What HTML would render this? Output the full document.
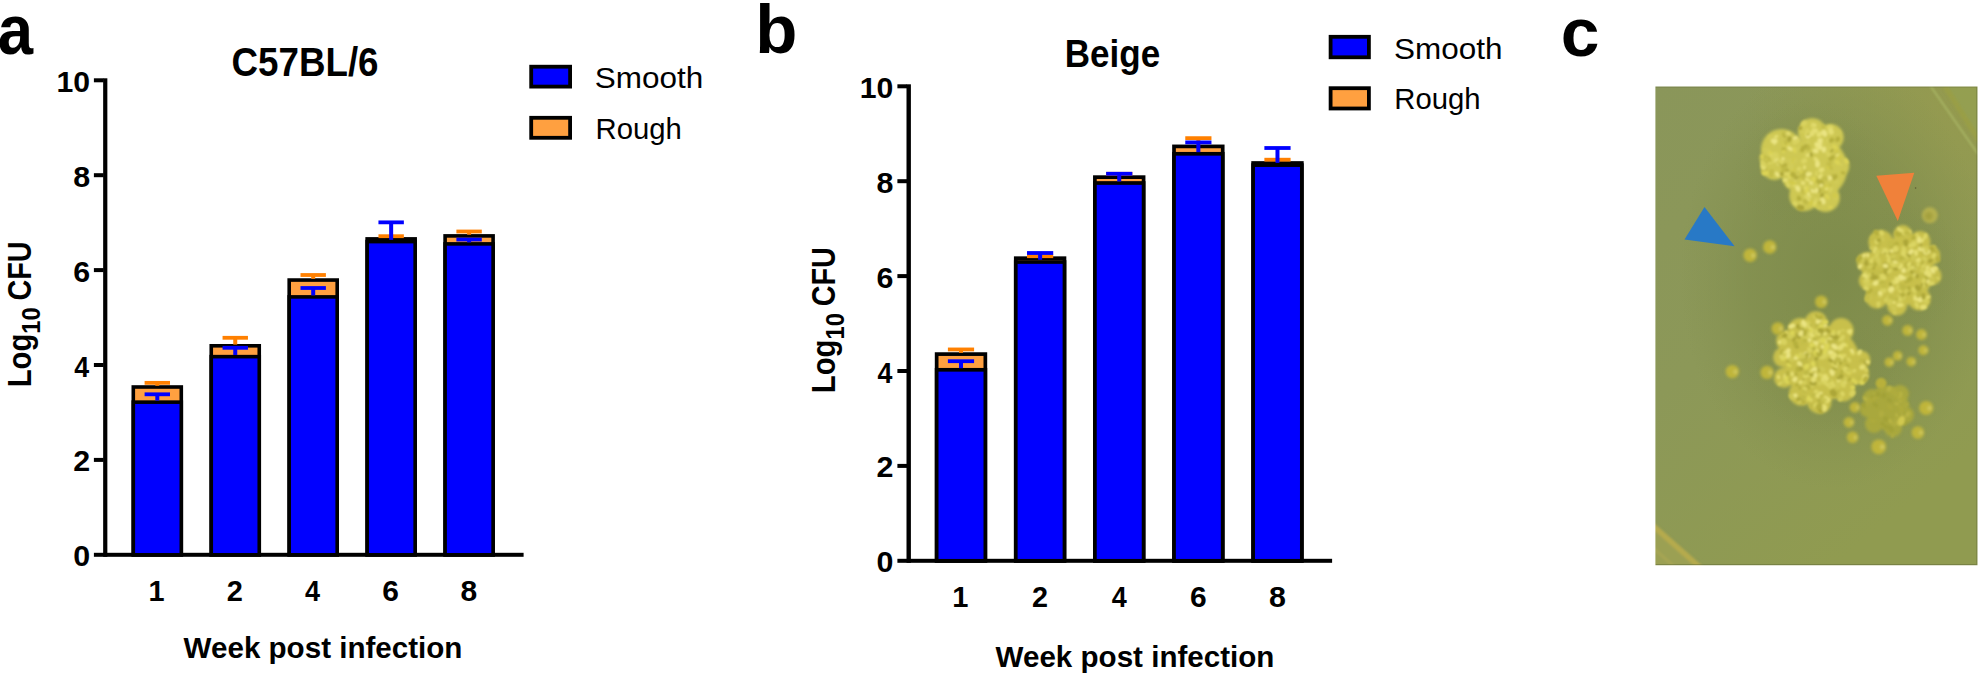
<!DOCTYPE html>
<html><head><meta charset="utf-8"><title>Figure</title>
<style>html,body{margin:0;padding:0;background:#fff;}svg{display:block}</style></head>
<body>
<svg width="1982" height="674" viewBox="0 0 1982 674">
<rect width="1982" height="674" fill="#fff"/>
<rect x="103.15" y="78.30" width="4.2" height="478.50" fill="#000"/>
<rect x="93.90" y="552.80" width="429.70" height="4" fill="#000"/>
<rect x="93.90" y="78.30" width="9.75" height="4" fill="#000"/>
<rect x="93.90" y="173.20" width="9.75" height="4" fill="#000"/>
<rect x="93.90" y="268.10" width="9.75" height="4" fill="#000"/>
<rect x="93.90" y="363.00" width="9.75" height="4" fill="#000"/>
<rect x="93.90" y="457.90" width="9.75" height="4" fill="#000"/>
<rect x="133.30" y="387.00" width="48.00" height="167.80" fill="#ffa040" stroke="#000" stroke-width="3.6"/>
<rect x="155.30" y="382.85" width="4" height="2.95" fill="#ff8000"/>
<rect x="144.60" y="380.95" width="25.4" height="3.8" fill="#ff8000"/>
<rect x="133.30" y="402.15" width="48.00" height="152.65" fill="#0000ff" stroke="#000" stroke-width="3.6"/>
<rect x="155.30" y="394.30" width="4" height="6.30" fill="#0000ff"/>
<rect x="144.60" y="392.40" width="25.4" height="3.8" fill="#0000ff"/>
<rect x="211.25" y="345.80" width="48.00" height="209.00" fill="#ffa040" stroke="#000" stroke-width="3.6"/>
<rect x="233.25" y="337.80" width="4" height="6.80" fill="#ff8000"/>
<rect x="222.55" y="335.90" width="25.4" height="3.8" fill="#ff8000"/>
<rect x="211.25" y="356.65" width="48.00" height="198.15" fill="#0000ff" stroke="#000" stroke-width="3.6"/>
<rect x="233.25" y="347.80" width="4" height="7.20" fill="#0000ff"/>
<rect x="222.55" y="345.90" width="25.4" height="3.8" fill="#0000ff"/>
<rect x="289.20" y="280.05" width="48.00" height="274.75" fill="#ffa040" stroke="#000" stroke-width="3.6"/>
<rect x="311.20" y="275.00" width="4" height="3.85" fill="#ff8000"/>
<rect x="300.50" y="273.10" width="25.4" height="3.8" fill="#ff8000"/>
<rect x="289.20" y="296.90" width="48.00" height="257.90" fill="#0000ff" stroke="#000" stroke-width="3.6"/>
<rect x="311.20" y="288.00" width="4" height="7.40" fill="#0000ff"/>
<rect x="300.50" y="286.10" width="25.4" height="3.8" fill="#0000ff"/>
<rect x="367.15" y="238.90" width="48.00" height="315.90" fill="#ffa040" stroke="#000" stroke-width="3.6"/>
<rect x="389.15" y="236.20" width="4" height="1.50" fill="#ff8000"/>
<rect x="378.45" y="234.30" width="25.4" height="3.8" fill="#ff8000"/>
<rect x="367.15" y="241.60" width="48.00" height="313.20" fill="#0000ff" stroke="#000" stroke-width="3.6"/>
<rect x="389.15" y="222.35" width="4" height="17.55" fill="#0000ff"/>
<rect x="378.45" y="220.45" width="25.4" height="3.8" fill="#0000ff"/>
<rect x="445.10" y="235.90" width="48.00" height="318.90" fill="#ffa040" stroke="#000" stroke-width="3.6"/>
<rect x="467.10" y="231.50" width="4" height="3.20" fill="#ff8000"/>
<rect x="456.40" y="229.60" width="25.4" height="3.8" fill="#ff8000"/>
<rect x="445.10" y="243.90" width="48.00" height="310.90" fill="#0000ff" stroke="#000" stroke-width="3.6"/>
<rect x="467.10" y="239.55" width="4" height="2.85" fill="#0000ff"/>
<rect x="456.40" y="237.65" width="25.4" height="3.8" fill="#0000ff"/>
<rect x="906.50" y="84.30" width="4.4" height="478.50" fill="#000"/>
<rect x="897.40" y="558.80" width="434.70" height="4" fill="#000"/>
<rect x="897.40" y="84.30" width="9.60" height="4" fill="#000"/>
<rect x="897.40" y="179.20" width="9.60" height="4" fill="#000"/>
<rect x="897.40" y="274.10" width="9.60" height="4" fill="#000"/>
<rect x="897.40" y="369.00" width="9.60" height="4" fill="#000"/>
<rect x="897.40" y="463.90" width="9.60" height="4" fill="#000"/>
<rect x="936.65" y="354.10" width="48.70" height="206.70" fill="#ffa040" stroke="#000" stroke-width="3.7"/>
<rect x="959.00" y="349.45" width="4" height="3.40" fill="#ff8000"/>
<rect x="947.90" y="347.55" width="26.2" height="3.8" fill="#ff8000"/>
<rect x="936.65" y="369.80" width="48.70" height="191.00" fill="#0000ff" stroke="#000" stroke-width="3.7"/>
<rect x="959.00" y="361.20" width="4" height="7.00" fill="#0000ff"/>
<rect x="947.90" y="359.30" width="26.2" height="3.8" fill="#0000ff"/>
<rect x="1015.77" y="258.20" width="48.70" height="302.60" fill="#ffa040" stroke="#000" stroke-width="3.7"/>
<rect x="1038.12" y="256.20" width="4" height="0.75" fill="#ff8000"/>
<rect x="1027.02" y="254.30" width="26.2" height="3.8" fill="#ff8000"/>
<rect x="1015.77" y="262.00" width="48.70" height="298.80" fill="#0000ff" stroke="#000" stroke-width="3.7"/>
<rect x="1038.12" y="253.00" width="4" height="6.80" fill="#0000ff"/>
<rect x="1027.02" y="251.10" width="26.2" height="3.8" fill="#0000ff"/>
<rect x="1094.89" y="177.15" width="48.70" height="383.65" fill="#ffa040" stroke="#000" stroke-width="3.7"/>
<rect x="1117.24" y="173.80" width="4" height="2.10" fill="#ff8000"/>
<rect x="1106.14" y="171.90" width="26.2" height="3.8" fill="#ff8000"/>
<rect x="1094.89" y="183.00" width="48.70" height="377.80" fill="#0000ff" stroke="#000" stroke-width="3.7"/>
<rect x="1117.24" y="173.75" width="4" height="7.75" fill="#0000ff"/>
<rect x="1106.14" y="171.85" width="26.2" height="3.8" fill="#0000ff"/>
<rect x="1174.01" y="146.40" width="48.70" height="414.40" fill="#ffa040" stroke="#000" stroke-width="3.7"/>
<rect x="1196.36" y="138.15" width="4" height="7.00" fill="#ff8000"/>
<rect x="1185.26" y="136.25" width="26.2" height="3.8" fill="#ff8000"/>
<rect x="1174.01" y="153.80" width="48.70" height="407.00" fill="#0000ff" stroke="#000" stroke-width="3.7"/>
<rect x="1196.36" y="142.40" width="4" height="9.80" fill="#0000ff"/>
<rect x="1185.26" y="140.50" width="26.2" height="3.8" fill="#0000ff"/>
<rect x="1253.13" y="163.00" width="48.70" height="397.80" fill="#ffa040" stroke="#000" stroke-width="3.7"/>
<rect x="1275.48" y="159.70" width="4" height="2.05" fill="#ff8000"/>
<rect x="1264.38" y="157.80" width="26.2" height="3.8" fill="#ff8000"/>
<rect x="1253.13" y="165.10" width="48.70" height="395.70" fill="#0000ff" stroke="#000" stroke-width="3.7"/>
<rect x="1275.48" y="148.00" width="4" height="14.90" fill="#0000ff"/>
<rect x="1264.38" y="146.10" width="26.2" height="3.8" fill="#0000ff"/>
<rect x="531.20" y="66.70" width="38.90" height="19.90" fill="#0000ff" stroke="#000" stroke-width="3.8"/>
<rect x="531.20" y="117.80" width="38.90" height="20.00" fill="#ffa040" stroke="#000" stroke-width="3.8"/>
<rect x="1330.60" y="36.80" width="38.30" height="20.50" fill="#0000ff" stroke="#000" stroke-width="3.8"/>
<rect x="1330.60" y="88.20" width="38.30" height="20.30" fill="#ffa040" stroke="#000" stroke-width="3.8"/>
<g font-family='"Liberation Sans", sans-serif'>
<text transform="translate(-2.22,53.50) scale(0.9079,1)" font-weight="bold" font-size="70" fill="#000">a</text>
<text transform="translate(755.19,52.80) scale(1.0028,1)" font-weight="bold" font-size="68.8" fill="#000">b</text>
<text transform="translate(1560.68,55.50) scale(1.0088,1)" font-weight="bold" font-size="69" fill="#000">c</text>
<text transform="translate(231.58,76.20) scale(0.9184,1)" font-weight="bold" font-size="40" fill="#000">C57BL/6</text>
<text transform="translate(1064.82,67.40) scale(0.8894,1)" font-weight="bold" font-size="39.4" fill="#000">Beige</text>
<text transform="translate(56.41,91.80) scale(0.9935,1)" font-weight="bold" font-size="30.4" fill="#000">10</text>
<text transform="translate(73.20,186.70) scale(1.0000,1)" font-weight="bold" font-size="30.4" fill="#000">8</text>
<text transform="translate(73.20,281.60) scale(1.0000,1)" font-weight="bold" font-size="30.4" fill="#000">6</text>
<text transform="translate(74.20,376.50) scale(0.8824,1)" font-weight="bold" font-size="30.4" fill="#000">4</text>
<text transform="translate(73.20,471.40) scale(1.0000,1)" font-weight="bold" font-size="30.4" fill="#000">2</text>
<text transform="translate(73.20,566.30) scale(1.0000,1)" font-weight="bold" font-size="30.4" fill="#000">0</text>
<text transform="translate(859.71,97.80) scale(0.9935,1)" font-weight="bold" font-size="30.4" fill="#000">10</text>
<text transform="translate(876.50,192.70) scale(1.0000,1)" font-weight="bold" font-size="30.4" fill="#000">8</text>
<text transform="translate(876.50,287.60) scale(1.0000,1)" font-weight="bold" font-size="30.4" fill="#000">6</text>
<text transform="translate(877.50,382.50) scale(0.8824,1)" font-weight="bold" font-size="30.4" fill="#000">4</text>
<text transform="translate(876.50,477.40) scale(1.0000,1)" font-weight="bold" font-size="30.4" fill="#000">2</text>
<text transform="translate(876.50,572.30) scale(1.0000,1)" font-weight="bold" font-size="30.4" fill="#000">0</text>
<text transform="translate(148.60,600.90) scale(0.9500,1)" font-weight="bold" font-size="30.4" fill="#000">1</text>
<text transform="translate(226.75,600.90) scale(0.9533,1)" font-weight="bold" font-size="30.4" fill="#000">2</text>
<text transform="translate(305.10,600.90) scale(0.8882,1)" font-weight="bold" font-size="30.4" fill="#000">4</text>
<text transform="translate(382.31,600.90) scale(0.9867,1)" font-weight="bold" font-size="30.4" fill="#000">6</text>
<text transform="translate(460.51,600.90) scale(0.9867,1)" font-weight="bold" font-size="30.4" fill="#000">8</text>
<text transform="translate(952.29,607.30) scale(0.9571,1)" font-weight="bold" font-size="30.4" fill="#000">1</text>
<text transform="translate(1031.95,607.30) scale(0.9467,1)" font-weight="bold" font-size="30.4" fill="#000">2</text>
<text transform="translate(1111.75,607.30) scale(0.8882,1)" font-weight="bold" font-size="30.4" fill="#000">4</text>
<text transform="translate(1189.91,607.30) scale(0.9867,1)" font-weight="bold" font-size="30.4" fill="#000">6</text>
<text transform="translate(1268.90,607.30) scale(1.0000,1)" font-weight="bold" font-size="30.4" fill="#000">8</text>
<text transform="translate(183.60,658.30) scale(1.0032,1)" font-weight="bold" font-size="29.5" fill="#000">Week post infection</text>
<text transform="translate(995.60,666.50) scale(1.0029,1)" font-weight="bold" font-size="29.5" fill="#000">Week post infection</text>
<g transform="translate(31.30,385.60) rotate(-90)"><text transform="translate(-1.75,0.00) scale(0.8741,1)" font-weight="bold" font-size="33.5" fill="#000">Log</text><text transform="translate(51.95,9.10) scale(0.9500,1)" font-weight="bold" font-size="25" fill="#000">10</text><text transform="translate(85.04,0.00) scale(0.8591,1)" font-weight="bold" font-size="33.5" fill="#000">CFU</text></g>
<g transform="translate(834.80,391.40) rotate(-90)"><text transform="translate(-1.75,0.00) scale(0.8741,1)" font-weight="bold" font-size="33.5" fill="#000">Log</text><text transform="translate(51.95,9.10) scale(0.9500,1)" font-weight="bold" font-size="25" fill="#000">10</text><text transform="translate(85.04,0.00) scale(0.8591,1)" font-weight="bold" font-size="33.5" fill="#000">CFU</text></g>
<text transform="translate(594.83,88.10) scale(1.0677,1)" font-weight="normal" font-size="29.5" fill="#000">Smooth</text>
<text transform="translate(595.51,138.90) scale(0.9928,1)" font-weight="normal" font-size="29.5" fill="#000">Rough</text>
<text transform="translate(1393.93,58.50) scale(1.0677,1)" font-weight="normal" font-size="29.5" fill="#000">Smooth</text>
<text transform="translate(1394.31,109.40) scale(0.9928,1)" font-weight="normal" font-size="29.5" fill="#000">Rough</text>
</g>
<defs>
<clipPath id="pc"><rect x="1655" y="86" width="323" height="480"/></clipPath>
<linearGradient id="bg" x1="0" y1="0" x2="0.55" y2="1">
<stop offset="0" stop-color="#8a965a"/><stop offset="0.5" stop-color="#8c9858"/><stop offset="1" stop-color="#909b50"/></linearGradient>
<radialGradient id="sh"><stop offset="0" stop-color="#7c8a49" stop-opacity="0.9"/><stop offset="0.55" stop-color="#7f8c4b" stop-opacity="0.62"/><stop offset="1" stop-color="#828e4c" stop-opacity="0"/></radialGradient>
<filter id="b1" x="-20%" y="-20%" width="140%" height="140%"><feGaussianBlur stdDeviation="1.0"/></filter>
<filter id="b15" x="-20%" y="-20%" width="140%" height="140%"><feGaussianBlur stdDeviation="1.6"/></filter>
<filter id="b2" x="-30%" y="-30%" width="160%" height="160%"><feGaussianBlur stdDeviation="1.8"/></filter>
</defs>
<g clip-path="url(#pc)">
<rect x="1654" y="85" width="325" height="482" fill="url(#bg)"/>
<radialGradient id="tr" cx="1977" cy="86" r="230" gradientUnits="userSpaceOnUse"><stop offset="0" stop-color="#979b4c" stop-opacity="0.85"/><stop offset="1" stop-color="#979b4c" stop-opacity="0"/></radialGradient>
<rect x="1654" y="85" width="325" height="482" fill="url(#tr)"/>
<ellipse cx="1835" cy="275" rx="155" ry="215" fill="url(#sh)"/>
<ellipse cx="1810" cy="170" rx="75" ry="70" fill="url(#sh)" opacity="0.35"/>
<ellipse cx="1895" cy="270" rx="70" ry="70" fill="url(#sh)" opacity="0.35"/>
<ellipse cx="1825" cy="365" rx="80" ry="72" fill="url(#sh)" opacity="0.35"/>
<g filter="url(#b1)">
<path d="M1653 528 L1698 568 L1653 568Z" fill="#9ba052"/>
<path d="M1651 524 L1703 570" stroke="#b5aa4e" stroke-width="5.5" fill="none"/>
<path d="M1651 546 L1678 570" stroke="#a8a652" stroke-width="2.5" fill="none"/>
<path d="M1944 84 L1982 142 L1982 84Z" fill="#93a052" opacity="0.8"/>
<path d="M1930.5 86 L1978 154" stroke="#a7b363" stroke-width="2" fill="none"/>
<path d="M1945 86 L1980 142" stroke="#9a9f45" stroke-width="5.5" fill="none" opacity="0.85"/>
</g>
<g filter="url(#b15)">
<circle cx="1816.0" cy="168.0" r="31.3" fill="#cec852"/>
<circle cx="1781.5" cy="149.5" r="20.5" fill="#cec852"/>
<circle cx="1774.5" cy="166.1" r="13.8" fill="#cec852"/>
<circle cx="1766.5" cy="158" r="7" fill="#cec852"/>
<circle cx="1812.2" cy="132.5" r="14.2" fill="#cec852"/>
<circle cx="1830.4" cy="137.3" r="13.3" fill="#cec852"/>
<circle cx="1804.5" cy="195.8" r="15.2" fill="#cec852"/>
<circle cx="1825.6" cy="197.8" r="14.2" fill="#cec852"/>
<circle cx="1837.1" cy="166.1" r="12.3" fill="#cec852"/>
<circle cx="1795.8" cy="177.6" r="13.3" fill="#cec852"/>
</g>
<g filter="url(#b1)">
<ellipse cx="1829.8" cy="148.3" rx="2.5" ry="1.7" fill="#dcd456" transform="rotate(81 1829.8 148.3)"/>
<ellipse cx="1784.6" cy="161.7" rx="3.6" ry="2.4" fill="#d2cc58" transform="rotate(109 1784.6 161.7)"/>
<ellipse cx="1829.3" cy="147.7" rx="3.1" ry="1.8" fill="#d2cc58" transform="rotate(57 1829.3 147.7)"/>
<ellipse cx="1790.2" cy="161.1" rx="2.7" ry="1.7" fill="#d2cc58" transform="rotate(76 1790.2 161.1)"/>
<ellipse cx="1775.5" cy="154.4" rx="3.0" ry="2.0" fill="#c0ba46" transform="rotate(122 1775.5 154.4)"/>
<ellipse cx="1802.6" cy="174.2" rx="3.6" ry="3.0" fill="#dcd456" transform="rotate(18 1802.6 174.2)"/>
<ellipse cx="1798.4" cy="174.5" rx="2.6" ry="2.0" fill="#cec854" transform="rotate(128 1798.4 174.5)"/>
<ellipse cx="1779.0" cy="163.3" rx="2.5" ry="2.1" fill="#eae482" transform="rotate(90 1779.0 163.3)"/>
<ellipse cx="1789.1" cy="139.5" rx="3.3" ry="2.2" fill="#aca638" transform="rotate(120 1789.1 139.5)"/>
<ellipse cx="1771.6" cy="156.6" rx="2.7" ry="1.8" fill="#dcd664" transform="rotate(92 1771.6 156.6)"/>
<ellipse cx="1767.8" cy="171.4" rx="2.1" ry="1.2" fill="#d8d25e" transform="rotate(127 1767.8 171.4)"/>
<ellipse cx="1808.2" cy="135.7" rx="2.9" ry="2.5" fill="#eae482" transform="rotate(139 1808.2 135.7)"/>
<ellipse cx="1830.5" cy="164.0" rx="2.6" ry="2.1" fill="#e4de72" transform="rotate(64 1830.5 164.0)"/>
<ellipse cx="1803.9" cy="125.8" rx="2.7" ry="2.2" fill="#d2ca4c" transform="rotate(172 1803.9 125.8)"/>
<ellipse cx="1781.9" cy="173.9" rx="2.4" ry="2.0" fill="#aca638" transform="rotate(87 1781.9 173.9)"/>
<ellipse cx="1777.2" cy="174.3" rx="2.9" ry="1.9" fill="#eae482" transform="rotate(62 1777.2 174.3)"/>
<ellipse cx="1776.1" cy="159.3" rx="3.1" ry="2.4" fill="#eae482" transform="rotate(114 1776.1 159.3)"/>
<ellipse cx="1770.0" cy="153.8" rx="3.4" ry="2.7" fill="#dcd456" transform="rotate(46 1770.0 153.8)"/>
<ellipse cx="1828.5" cy="154.3" rx="3.4" ry="2.1" fill="#d8d25e" transform="rotate(48 1828.5 154.3)"/>
<ellipse cx="1813.2" cy="178.9" rx="2.5" ry="2.1" fill="#dcd456" transform="rotate(118 1813.2 178.9)"/>
<ellipse cx="1824.0" cy="139.2" rx="2.9" ry="1.6" fill="#cec854" transform="rotate(70 1824.0 139.2)"/>
<ellipse cx="1804.1" cy="202.5" rx="3.3" ry="2.8" fill="#cec854" transform="rotate(174 1804.1 202.5)"/>
<ellipse cx="1827.3" cy="198.0" rx="2.3" ry="1.7" fill="#d2ca4c" transform="rotate(29 1827.3 198.0)"/>
<ellipse cx="1764.6" cy="171.0" rx="3.8" ry="2.8" fill="#c0ba46" transform="rotate(125 1764.6 171.0)"/>
<ellipse cx="1805.7" cy="154.1" rx="3.0" ry="2.0" fill="#d2cc58" transform="rotate(114 1805.7 154.1)"/>
<ellipse cx="1808.8" cy="200.2" rx="2.1" ry="1.2" fill="#e4de72" transform="rotate(14 1808.8 200.2)"/>
<ellipse cx="1798.7" cy="199.2" rx="2.0" ry="1.6" fill="#b6b03e" transform="rotate(7 1798.7 199.2)"/>
<ellipse cx="1791.4" cy="175.5" rx="3.6" ry="3.0" fill="#eae482" transform="rotate(127 1791.4 175.5)"/>
<ellipse cx="1818.7" cy="176.3" rx="3.0" ry="2.5" fill="#c0ba46" transform="rotate(106 1818.7 176.3)"/>
<ellipse cx="1808.4" cy="155.1" rx="2.9" ry="1.9" fill="#e4de72" transform="rotate(157 1808.4 155.1)"/>
<ellipse cx="1820.8" cy="183.0" rx="3.8" ry="3.0" fill="#b6b03e" transform="rotate(61 1820.8 183.0)"/>
<ellipse cx="1829.9" cy="177.7" rx="3.0" ry="2.5" fill="#eae482" transform="rotate(151 1829.9 177.7)"/>
<ellipse cx="1790.2" cy="148.7" rx="3.3" ry="1.9" fill="#eae482" transform="rotate(31 1790.2 148.7)"/>
<ellipse cx="1817.2" cy="146.7" rx="3.5" ry="2.3" fill="#e4de72" transform="rotate(61 1817.2 146.7)"/>
<ellipse cx="1838.8" cy="159.6" rx="3.3" ry="2.3" fill="#c4be4a" transform="rotate(104 1838.8 159.6)"/>
<ellipse cx="1801.9" cy="177.4" rx="3.8" ry="2.2" fill="#c4be4a" transform="rotate(23 1801.9 177.4)"/>
<ellipse cx="1813.7" cy="125.0" rx="3.0" ry="1.9" fill="#e4de72" transform="rotate(15 1813.7 125.0)"/>
<ellipse cx="1777.8" cy="162.1" rx="2.2" ry="1.8" fill="#d2cc58" transform="rotate(19 1777.8 162.1)"/>
<ellipse cx="1835.8" cy="198.6" rx="2.2" ry="1.3" fill="#d2cc58" transform="rotate(159 1835.8 198.6)"/>
<ellipse cx="1820.7" cy="147.4" rx="2.3" ry="1.6" fill="#dcd664" transform="rotate(123 1820.7 147.4)"/>
<ellipse cx="1814.7" cy="203.5" rx="2.7" ry="2.3" fill="#e4de72" transform="rotate(164 1814.7 203.5)"/>
<ellipse cx="1772.9" cy="159.5" rx="2.4" ry="1.5" fill="#e4de72" transform="rotate(5 1772.9 159.5)"/>
<ellipse cx="1800.9" cy="203.4" rx="2.7" ry="1.5" fill="#d8d25e" transform="rotate(57 1800.9 203.4)"/>
<ellipse cx="1800.0" cy="181.1" rx="3.1" ry="2.6" fill="#d2ca4c" transform="rotate(98 1800.0 181.1)"/>
<ellipse cx="1776.7" cy="155.6" rx="2.4" ry="1.4" fill="#e4de72" transform="rotate(65 1776.7 155.6)"/>
<ellipse cx="1816.2" cy="159.7" rx="3.0" ry="2.0" fill="#e4de72" transform="rotate(41 1816.2 159.7)"/>
<ellipse cx="1825.5" cy="190.6" rx="3.0" ry="2.5" fill="#c4be4a" transform="rotate(44 1825.5 190.6)"/>
<ellipse cx="1766.3" cy="161.6" rx="2.4" ry="1.4" fill="#c4be4a" transform="rotate(44 1766.3 161.6)"/>
<ellipse cx="1831.8" cy="150.6" rx="2.0" ry="1.1" fill="#aca638" transform="rotate(135 1831.8 150.6)"/>
<ellipse cx="1786.1" cy="144.1" rx="2.9" ry="2.3" fill="#dcd456" transform="rotate(14 1786.1 144.1)"/>
<ellipse cx="1820.5" cy="141.0" rx="3.5" ry="2.2" fill="#eae482" transform="rotate(19 1820.5 141.0)"/>
<ellipse cx="1822.0" cy="195.1" rx="2.4" ry="1.7" fill="#aca638" transform="rotate(130 1822.0 195.1)"/>
<ellipse cx="1818.3" cy="190.6" rx="3.0" ry="2.5" fill="#b6b03e" transform="rotate(178 1818.3 190.6)"/>
<ellipse cx="1806.0" cy="172.5" rx="3.3" ry="2.5" fill="#c4be4a" transform="rotate(45 1806.0 172.5)"/>
<ellipse cx="1823.2" cy="139.8" rx="2.5" ry="1.7" fill="#d2cc58" transform="rotate(97 1823.2 139.8)"/>
<ellipse cx="1776.7" cy="157.3" rx="2.0" ry="1.5" fill="#d8d25e" transform="rotate(75 1776.7 157.3)"/>
<ellipse cx="1808.5" cy="148.4" rx="3.1" ry="1.8" fill="#e4de72" transform="rotate(177 1808.5 148.4)"/>
<ellipse cx="1770.0" cy="157.7" rx="2.4" ry="1.3" fill="#eae482" transform="rotate(95 1770.0 157.7)"/>
<ellipse cx="1846.3" cy="161.1" rx="3.2" ry="1.9" fill="#dcd456" transform="rotate(56 1846.3 161.1)"/>
<ellipse cx="1783.3" cy="160.9" rx="3.0" ry="2.5" fill="#e4de72" transform="rotate(165 1783.3 160.9)"/>
<ellipse cx="1797.9" cy="188.6" rx="3.4" ry="2.5" fill="#eae482" transform="rotate(66 1797.9 188.6)"/>
<ellipse cx="1810.0" cy="190.8" rx="3.2" ry="2.6" fill="#d2ca4c" transform="rotate(67 1810.0 190.8)"/>
<ellipse cx="1827.1" cy="138.0" rx="2.2" ry="1.6" fill="#cec854" transform="rotate(93 1827.1 138.0)"/>
<ellipse cx="1816.0" cy="180.8" rx="3.0" ry="2.4" fill="#dcd456" transform="rotate(9 1816.0 180.8)"/>
<ellipse cx="1774.2" cy="141.0" rx="3.5" ry="2.5" fill="#eae482" transform="rotate(179 1774.2 141.0)"/>
<ellipse cx="1799.1" cy="168.9" rx="2.5" ry="2.0" fill="#dcd664" transform="rotate(173 1799.1 168.9)"/>
<ellipse cx="1787.3" cy="169.9" rx="3.2" ry="1.9" fill="#b6b03e" transform="rotate(153 1787.3 169.9)"/>
<ellipse cx="1788.1" cy="184.7" rx="2.8" ry="1.7" fill="#dcd664" transform="rotate(59 1788.1 184.7)"/>
<ellipse cx="1806.5" cy="132.9" rx="2.8" ry="2.0" fill="#dcd456" transform="rotate(164 1806.5 132.9)"/>
<ellipse cx="1816.3" cy="191.8" rx="2.0" ry="1.2" fill="#d2cc58" transform="rotate(79 1816.3 191.8)"/>
<ellipse cx="1829.4" cy="165.7" rx="2.5" ry="1.5" fill="#b6b03e" transform="rotate(27 1829.4 165.7)"/>
<ellipse cx="1804.2" cy="160.9" rx="3.2" ry="2.5" fill="#dcd664" transform="rotate(146 1804.2 160.9)"/>
<ellipse cx="1763.3" cy="166.7" rx="3.4" ry="2.4" fill="#e4de72" transform="rotate(69 1763.3 166.7)"/>
<ellipse cx="1827.2" cy="196.7" rx="3.0" ry="1.7" fill="#dcd456" transform="rotate(53 1827.2 196.7)"/>
<ellipse cx="1809.4" cy="195.0" rx="2.9" ry="2.1" fill="#eae482" transform="rotate(56 1809.4 195.0)"/>
<ellipse cx="1830.8" cy="130.7" rx="2.2" ry="1.7" fill="#eae482" transform="rotate(63 1830.8 130.7)"/>
<ellipse cx="1784.6" cy="134.9" rx="2.9" ry="2.1" fill="#b6b03e" transform="rotate(68 1784.6 134.9)"/>
<ellipse cx="1784.2" cy="165.8" rx="3.3" ry="2.5" fill="#b6b03e" transform="rotate(131 1784.2 165.8)"/>
<ellipse cx="1785.4" cy="180.2" rx="2.7" ry="2.1" fill="#e4de72" transform="rotate(178 1785.4 180.2)"/>
<ellipse cx="1821.3" cy="140.3" rx="2.4" ry="1.7" fill="#d8d25e" transform="rotate(122 1821.3 140.3)"/>
<ellipse cx="1767.6" cy="158.9" rx="3.1" ry="2.4" fill="#d2ca4c" transform="rotate(162 1767.6 158.9)"/>
<ellipse cx="1829.7" cy="166.9" rx="3.7" ry="2.4" fill="#d2ca4c" transform="rotate(4 1829.7 166.9)"/>
<ellipse cx="1804.1" cy="123.5" rx="3.4" ry="2.7" fill="#d8d25e" transform="rotate(138 1804.1 123.5)"/>
<ellipse cx="1837.0" cy="155.2" rx="2.7" ry="2.1" fill="#c0ba46" transform="rotate(55 1837.0 155.2)"/>
<ellipse cx="1817.1" cy="198.6" rx="2.1" ry="1.5" fill="#cec854" transform="rotate(134 1817.1 198.6)"/>
<ellipse cx="1832.7" cy="175.5" rx="2.3" ry="1.8" fill="#c4be4a" transform="rotate(29 1832.7 175.5)"/>
<ellipse cx="1776.2" cy="136.5" rx="2.4" ry="1.5" fill="#e4de72" transform="rotate(159 1776.2 136.5)"/>
<ellipse cx="1807.8" cy="143.0" rx="3.2" ry="2.2" fill="#d2cc58" transform="rotate(100 1807.8 143.0)"/>
<ellipse cx="1802.7" cy="148.9" rx="3.5" ry="2.2" fill="#b6b03e" transform="rotate(110 1802.7 148.9)"/>
<ellipse cx="1771.4" cy="156.9" rx="2.5" ry="1.8" fill="#e4de72" transform="rotate(129 1771.4 156.9)"/>
<ellipse cx="1792.9" cy="167.2" rx="2.1" ry="1.7" fill="#aca638" transform="rotate(112 1792.9 167.2)"/>
<ellipse cx="1842.0" cy="163.9" rx="2.5" ry="1.4" fill="#d8d25e" transform="rotate(132 1842.0 163.9)"/>
<ellipse cx="1794.7" cy="141.5" rx="3.1" ry="1.9" fill="#dcd664" transform="rotate(95 1794.7 141.5)"/>
<ellipse cx="1811.5" cy="190.3" rx="2.6" ry="1.7" fill="#b6b03e" transform="rotate(21 1811.5 190.3)"/>
<ellipse cx="1829.1" cy="140.9" rx="2.7" ry="1.9" fill="#dcd664" transform="rotate(18 1829.1 140.9)"/>
<ellipse cx="1817.5" cy="164.1" rx="3.4" ry="2.5" fill="#eae482" transform="rotate(89 1817.5 164.1)"/>
<ellipse cx="1835.1" cy="195.6" rx="2.6" ry="2.1" fill="#d2ca4c" transform="rotate(21 1835.1 195.6)"/>
<ellipse cx="1818.3" cy="181.1" rx="2.8" ry="2.2" fill="#b6b03e" transform="rotate(175 1818.3 181.1)"/>
<ellipse cx="1816.3" cy="200.0" rx="2.4" ry="1.8" fill="#d8d25e" transform="rotate(59 1816.3 200.0)"/>
<ellipse cx="1817.7" cy="175.5" rx="2.0" ry="1.1" fill="#cec854" transform="rotate(86 1817.7 175.5)"/>
<ellipse cx="1824.3" cy="203.2" rx="2.3" ry="1.8" fill="#d2cc58" transform="rotate(116 1824.3 203.2)"/>
<ellipse cx="1829.7" cy="185.8" rx="2.1" ry="1.4" fill="#c0ba46" transform="rotate(23 1829.7 185.8)"/>
<ellipse cx="1811.7" cy="133.9" rx="3.0" ry="2.1" fill="#e4de72" transform="rotate(23 1811.7 133.9)"/>
<ellipse cx="1799.2" cy="198.2" rx="2.9" ry="1.7" fill="#b6b03e" transform="rotate(50 1799.2 198.2)"/>
<ellipse cx="1823.2" cy="143.2" rx="3.7" ry="2.8" fill="#d2cc58" transform="rotate(44 1823.2 143.2)"/>
<ellipse cx="1767.1" cy="155.5" rx="2.8" ry="2.1" fill="#d2cc58" transform="rotate(115 1767.1 155.5)"/>
<ellipse cx="1829.5" cy="163.8" rx="3.3" ry="2.3" fill="#c4be4a" transform="rotate(166 1829.5 163.8)"/>
<ellipse cx="1830.0" cy="127.4" rx="3.4" ry="2.1" fill="#dcd664" transform="rotate(176 1830.0 127.4)"/>
<ellipse cx="1821.2" cy="185.3" rx="2.1" ry="1.5" fill="#eae482" transform="rotate(164 1821.2 185.3)"/>
<ellipse cx="1769.2" cy="162.5" rx="2.1" ry="1.5" fill="#dcd664" transform="rotate(80 1769.2 162.5)"/>
<ellipse cx="1838.0" cy="155.9" rx="2.8" ry="2.2" fill="#e4de72" transform="rotate(49 1838.0 155.9)"/>
<ellipse cx="1806.6" cy="197.1" rx="2.7" ry="2.1" fill="#dcd664" transform="rotate(56 1806.6 197.1)"/>
<ellipse cx="1809.1" cy="174.4" rx="3.2" ry="1.9" fill="#eae482" transform="rotate(151 1809.1 174.4)"/>
<ellipse cx="1771.1" cy="172.3" rx="3.4" ry="2.9" fill="#c4be4a" transform="rotate(105 1771.1 172.3)"/>
<ellipse cx="1823.9" cy="149.7" rx="3.0" ry="2.4" fill="#eae482" transform="rotate(105 1823.9 149.7)"/>
<ellipse cx="1783.3" cy="159.4" rx="2.5" ry="1.5" fill="#eae482" transform="rotate(67 1783.3 159.4)"/>
<ellipse cx="1807.7" cy="173.3" rx="2.1" ry="1.4" fill="#eae482" transform="rotate(144 1807.7 173.3)"/>
<ellipse cx="1811.1" cy="183.6" rx="2.6" ry="2.0" fill="#eae482" transform="rotate(90 1811.1 183.6)"/>
<ellipse cx="1806.4" cy="189.4" rx="3.4" ry="2.5" fill="#e4de72" transform="rotate(81 1806.4 189.4)"/>
<ellipse cx="1796.3" cy="140.5" rx="3.7" ry="3.0" fill="#d8d25e" transform="rotate(167 1796.3 140.5)"/>
<ellipse cx="1810.9" cy="203.0" rx="3.0" ry="2.6" fill="#d2ca4c" transform="rotate(141 1810.9 203.0)"/>
<ellipse cx="1763.3" cy="163.2" rx="3.4" ry="2.3" fill="#d8d25e" transform="rotate(55 1763.3 163.2)"/>
<ellipse cx="1791.1" cy="176.6" rx="2.3" ry="1.7" fill="#c4be4a" transform="rotate(101 1791.1 176.6)"/>
<ellipse cx="1796.1" cy="180.5" rx="2.1" ry="1.2" fill="#e4de72" transform="rotate(98 1796.1 180.5)"/>
<ellipse cx="1831.3" cy="140.2" rx="3.0" ry="2.2" fill="#b6b03e" transform="rotate(154 1831.3 140.2)"/>
<ellipse cx="1817.6" cy="142.8" rx="2.0" ry="1.3" fill="#d2ca4c" transform="rotate(153 1817.6 142.8)"/>
<ellipse cx="1805.6" cy="201.7" rx="2.9" ry="2.4" fill="#c0ba46" transform="rotate(42 1805.6 201.7)"/>
<ellipse cx="1819.5" cy="134.2" rx="3.4" ry="2.6" fill="#e4de72" transform="rotate(147 1819.5 134.2)"/>
<ellipse cx="1794.6" cy="150.2" rx="2.7" ry="2.2" fill="#d8d25e" transform="rotate(14 1794.6 150.2)"/>
<ellipse cx="1839.5" cy="158.2" rx="2.1" ry="1.7" fill="#b6b03e" transform="rotate(83 1839.5 158.2)"/>
<ellipse cx="1792.7" cy="168.8" rx="3.0" ry="2.4" fill="#d2ca4c" transform="rotate(92 1792.7 168.8)"/>
<ellipse cx="1819.7" cy="146.2" rx="3.8" ry="2.4" fill="#eae482" transform="rotate(74 1819.7 146.2)"/>
<ellipse cx="1774.6" cy="142.2" rx="2.5" ry="1.8" fill="#eae482" transform="rotate(106 1774.6 142.2)"/>
<ellipse cx="1811.1" cy="194.7" rx="2.0" ry="1.4" fill="#d2cc58" transform="rotate(119 1811.1 194.7)"/>
<ellipse cx="1767.2" cy="159.6" rx="3.6" ry="2.7" fill="#c4be4a" transform="rotate(162 1767.2 159.6)"/>
<ellipse cx="1819.3" cy="203.5" rx="3.4" ry="2.3" fill="#c0ba46" transform="rotate(135 1819.3 203.5)"/>
<ellipse cx="1795.3" cy="203.5" rx="2.9" ry="1.7" fill="#dcd664" transform="rotate(27 1795.3 203.5)"/>
<ellipse cx="1822.6" cy="201.1" rx="3.4" ry="2.9" fill="#eae482" transform="rotate(74 1822.6 201.1)"/>
<ellipse cx="1803.3" cy="174.9" rx="2.6" ry="2.1" fill="#c0ba46" transform="rotate(39 1803.3 174.9)"/>
<ellipse cx="1789.6" cy="182.0" rx="2.1" ry="1.3" fill="#d2ca4c" transform="rotate(27 1789.6 182.0)"/>
<ellipse cx="1815.6" cy="187.1" rx="3.7" ry="2.5" fill="#d2cc58" transform="rotate(130 1815.6 187.1)"/>
<ellipse cx="1795.0" cy="150.2" rx="3.0" ry="2.1" fill="#dcd456" transform="rotate(62 1795.0 150.2)"/>
<ellipse cx="1802.7" cy="182.9" rx="2.8" ry="2.1" fill="#e4de72" transform="rotate(21 1802.7 182.9)"/>
<ellipse cx="1834.9" cy="146.8" rx="3.3" ry="1.8" fill="#dcd456" transform="rotate(39 1834.9 146.8)"/>
<ellipse cx="1798.7" cy="182.4" rx="2.5" ry="1.8" fill="#c4be4a" transform="rotate(163 1798.7 182.4)"/>
<ellipse cx="1807.4" cy="133.1" rx="3.1" ry="2.4" fill="#e4de72" transform="rotate(30 1807.4 133.1)"/>
<ellipse cx="1795.2" cy="137.9" rx="2.5" ry="1.8" fill="#eae482" transform="rotate(161 1795.2 137.9)"/>
<ellipse cx="1839.2" cy="157.8" rx="3.5" ry="2.1" fill="#d2ca4c" transform="rotate(136 1839.2 157.8)"/>
<ellipse cx="1823.2" cy="127.0" rx="2.5" ry="1.8" fill="#c4be4a" transform="rotate(79 1823.2 127.0)"/>
<ellipse cx="1812.4" cy="190.9" rx="2.7" ry="1.6" fill="#eae482" transform="rotate(35 1812.4 190.9)"/>
<ellipse cx="1814.7" cy="130.8" rx="3.5" ry="2.5" fill="#e4de72" transform="rotate(170 1814.7 130.8)"/>
<ellipse cx="1811.2" cy="154.6" rx="2.4" ry="1.6" fill="#aca638" transform="rotate(85 1811.2 154.6)"/>
<ellipse cx="1817.3" cy="144.4" rx="3.0" ry="2.1" fill="#eae482" transform="rotate(27 1817.3 144.4)"/>
<ellipse cx="1807.9" cy="147.4" rx="3.5" ry="2.8" fill="#c0ba46" transform="rotate(57 1807.9 147.4)"/>
<ellipse cx="1794.0" cy="161.0" rx="3.3" ry="2.0" fill="#d2ca4c" transform="rotate(114 1794.0 161.0)"/>
<ellipse cx="1820.4" cy="176.3" rx="3.0" ry="2.1" fill="#e4de72" transform="rotate(119 1820.4 176.3)"/>
<ellipse cx="1784.1" cy="149.6" rx="2.5" ry="1.9" fill="#b6b03e" transform="rotate(15 1784.1 149.6)"/>
<ellipse cx="1798.0" cy="149.9" rx="2.5" ry="1.9" fill="#c4be4a" transform="rotate(68 1798.0 149.9)"/>
<ellipse cx="1824.8" cy="178.6" rx="3.4" ry="2.6" fill="#c4be4a" transform="rotate(7 1824.8 178.6)"/>
<ellipse cx="1831.1" cy="167.9" rx="2.4" ry="1.7" fill="#c4be4a" transform="rotate(65 1831.1 167.9)"/>
<ellipse cx="1794.5" cy="183.7" rx="3.1" ry="2.0" fill="#e4de72" transform="rotate(122 1794.5 183.7)"/>
<ellipse cx="1836.6" cy="150.6" rx="2.2" ry="1.8" fill="#d2ca4c" transform="rotate(142 1836.6 150.6)"/>
<ellipse cx="1816.4" cy="190.6" rx="2.7" ry="2.1" fill="#eae482" transform="rotate(112 1816.4 190.6)"/>
<ellipse cx="1766.3" cy="158.0" rx="2.5" ry="1.6" fill="#dcd664" transform="rotate(54 1766.3 158.0)"/>
<ellipse cx="1804.5" cy="167.4" rx="2.4" ry="1.6" fill="#e4de72" transform="rotate(98 1804.5 167.4)"/>
<ellipse cx="1780.3" cy="164.0" rx="2.2" ry="1.7" fill="#c4be4a" transform="rotate(134 1780.3 164.0)"/>
<ellipse cx="1803.3" cy="130.0" rx="3.5" ry="2.7" fill="#d2cc58" transform="rotate(123 1803.3 130.0)"/>
<ellipse cx="1807.9" cy="134.0" rx="2.1" ry="1.5" fill="#b6b03e" transform="rotate(122 1807.9 134.0)"/>
<ellipse cx="1786.5" cy="134.5" rx="2.7" ry="1.7" fill="#cec854" transform="rotate(28 1786.5 134.5)"/>
<ellipse cx="1815.4" cy="204.7" rx="2.3" ry="1.4" fill="#dcd456" transform="rotate(124 1815.4 204.7)"/>
<ellipse cx="1824.4" cy="133.1" rx="3.7" ry="2.7" fill="#eae482" transform="rotate(68 1824.4 133.1)"/>
<ellipse cx="1797.4" cy="178.8" rx="2.8" ry="2.1" fill="#aca638" transform="rotate(50 1797.4 178.8)"/>
<ellipse cx="1778.2" cy="146.9" rx="2.8" ry="1.6" fill="#d2cc58" transform="rotate(127 1778.2 146.9)"/>
<ellipse cx="1830.3" cy="189.5" rx="3.0" ry="2.3" fill="#d8d25e" transform="rotate(99 1830.3 189.5)"/>
<ellipse cx="1831.6" cy="158.1" rx="3.5" ry="2.2" fill="#b6b03e" transform="rotate(145 1831.6 158.1)"/>
<ellipse cx="1840.6" cy="160.4" rx="2.2" ry="1.2" fill="#cec854" transform="rotate(127 1840.6 160.4)"/>
<ellipse cx="1819.8" cy="206.1" rx="3.8" ry="3.0" fill="#cec854" transform="rotate(10 1819.8 206.1)"/>
<ellipse cx="1771.6" cy="161.6" rx="2.6" ry="2.1" fill="#d8d25e" transform="rotate(43 1771.6 161.6)"/>
<ellipse cx="1783.9" cy="169.5" rx="3.6" ry="2.2" fill="#c0ba46" transform="rotate(116 1783.9 169.5)"/>
<ellipse cx="1837.3" cy="162.3" rx="3.0" ry="2.1" fill="#dcd456" transform="rotate(38 1837.3 162.3)"/>
<ellipse cx="1830.4" cy="207.2" rx="2.2" ry="1.4" fill="#dcd456" transform="rotate(175 1830.4 207.2)"/>
<ellipse cx="1805.5" cy="146.7" rx="2.7" ry="2.0" fill="#b6b03e" transform="rotate(119 1805.5 146.7)"/>
<ellipse cx="1776.5" cy="153.2" rx="2.9" ry="1.8" fill="#d2cc58" transform="rotate(23 1776.5 153.2)"/>
<ellipse cx="1783.8" cy="151.3" rx="2.1" ry="1.3" fill="#dcd456" transform="rotate(138 1783.8 151.3)"/>
<ellipse cx="1788.4" cy="133.6" rx="2.3" ry="1.6" fill="#e4de72" transform="rotate(19 1788.4 133.6)"/>
<ellipse cx="1798.5" cy="181.3" rx="3.3" ry="2.7" fill="#cec854" transform="rotate(97 1798.5 181.3)"/>
<ellipse cx="1790.2" cy="176.0" rx="2.8" ry="1.7" fill="#dcd456" transform="rotate(32 1790.2 176.0)"/>
<ellipse cx="1820.2" cy="141.7" rx="3.7" ry="2.2" fill="#eae482" transform="rotate(105 1820.2 141.7)"/>
<ellipse cx="1816.5" cy="173.5" rx="2.9" ry="1.8" fill="#d8d25e" transform="rotate(91 1816.5 173.5)"/>
<ellipse cx="1806.1" cy="131.1" rx="3.4" ry="2.0" fill="#cec854" transform="rotate(116 1806.1 131.1)"/>
<ellipse cx="1836.6" cy="181.9" rx="2.1" ry="1.5" fill="#d2cc58" transform="rotate(140 1836.6 181.9)"/>
<ellipse cx="1793.5" cy="183.3" rx="2.7" ry="2.0" fill="#d2ca4c" transform="rotate(178 1793.5 183.3)"/>
<ellipse cx="1826.9" cy="187.9" rx="3.8" ry="3.0" fill="#d2ca4c" transform="rotate(100 1826.9 187.9)"/>
<ellipse cx="1775.3" cy="154.7" rx="3.5" ry="2.3" fill="#d8d25e" transform="rotate(27 1775.3 154.7)"/>
<ellipse cx="1826.6" cy="188.8" rx="2.2" ry="1.4" fill="#e4de72" transform="rotate(167 1826.6 188.8)"/>
<ellipse cx="1807.5" cy="179.8" rx="2.8" ry="1.7" fill="#e4de72" transform="rotate(23 1807.5 179.8)"/>
<ellipse cx="1834.9" cy="177.0" rx="3.1" ry="2.2" fill="#b6b03e" transform="rotate(129 1834.9 177.0)"/>
<ellipse cx="1762.9" cy="156.7" rx="2.4" ry="1.7" fill="#dcd456" transform="rotate(14 1762.9 156.7)"/>
<ellipse cx="1815.6" cy="151.0" rx="3.2" ry="2.3" fill="#eae482" transform="rotate(23 1815.6 151.0)"/>
<ellipse cx="1784.6" cy="161.2" rx="2.3" ry="1.4" fill="#cec854" transform="rotate(129 1784.6 161.2)"/>
<ellipse cx="1786.0" cy="142.2" rx="3.3" ry="2.1" fill="#c4be4a" transform="rotate(96 1786.0 142.2)"/>
<ellipse cx="1771.4" cy="175.8" rx="2.0" ry="1.6" fill="#c4be4a" transform="rotate(112 1771.4 175.8)"/>
<ellipse cx="1812.4" cy="126.2" rx="2.1" ry="1.7" fill="#dcd664" transform="rotate(57 1812.4 126.2)"/>
<ellipse cx="1793.2" cy="174.9" rx="3.5" ry="2.6" fill="#b6b03e" transform="rotate(44 1793.2 174.9)"/>
<ellipse cx="1765.3" cy="173.1" rx="3.8" ry="2.3" fill="#dcd456" transform="rotate(170 1765.3 173.1)"/>
<ellipse cx="1843.2" cy="172.9" rx="2.5" ry="1.4" fill="#b6b03e" transform="rotate(22 1843.2 172.9)"/>
<ellipse cx="1787.0" cy="173.9" rx="3.0" ry="1.8" fill="#dcd664" transform="rotate(7 1787.0 173.9)"/>
<ellipse cx="1837.7" cy="133.4" rx="3.5" ry="3.0" fill="#cec854" transform="rotate(138 1837.7 133.4)"/>
<ellipse cx="1766.8" cy="150.1" rx="3.5" ry="2.1" fill="#d2cc58" transform="rotate(3 1766.8 150.1)"/>
<ellipse cx="1769.4" cy="159.0" rx="3.5" ry="2.3" fill="#c4be4a" transform="rotate(44 1769.4 159.0)"/>
<ellipse cx="1837.7" cy="139.3" rx="2.8" ry="2.3" fill="#b6b03e" transform="rotate(107 1837.7 139.3)"/>
<ellipse cx="1820.0" cy="202.8" rx="2.4" ry="1.8" fill="#c4be4a" transform="rotate(105 1820.0 202.8)"/>
<ellipse cx="1821.5" cy="169.9" rx="3.1" ry="2.5" fill="#e4de72" transform="rotate(154 1821.5 169.9)"/>
<ellipse cx="1777.5" cy="147.2" rx="3.6" ry="2.6" fill="#cec854" transform="rotate(17 1777.5 147.2)"/>
<ellipse cx="1810.4" cy="186.8" rx="2.7" ry="2.2" fill="#d2cc58" transform="rotate(85 1810.4 186.8)"/>
<ellipse cx="1781.6" cy="161.6" rx="2.8" ry="2.0" fill="#dcd664" transform="rotate(57 1781.6 161.6)"/>
<ellipse cx="1800.5" cy="128.2" rx="2.1" ry="1.6" fill="#aca638" transform="rotate(142 1800.5 128.2)"/>
<ellipse cx="1797.5" cy="149.4" rx="3.0" ry="1.8" fill="#d2cc58" transform="rotate(103 1797.5 149.4)"/>
<ellipse cx="1802.9" cy="191.1" rx="3.4" ry="1.9" fill="#c4be4a" transform="rotate(67 1802.9 191.1)"/>
<ellipse cx="1770.5" cy="137.1" rx="2.8" ry="2.0" fill="#d2cc58" transform="rotate(146 1770.5 137.1)"/>
<ellipse cx="1842.6" cy="162.6" rx="2.3" ry="1.6" fill="#cec854" transform="rotate(106 1842.6 162.6)"/>
<ellipse cx="1791.1" cy="166.6" rx="3.8" ry="3.1" fill="#d2cc58" transform="rotate(110 1791.1 166.6)"/>
<ellipse cx="1831.0" cy="131.5" rx="3.4" ry="2.7" fill="#e4de72" transform="rotate(71 1831.0 131.5)"/>
<ellipse cx="1765.3" cy="156.9" rx="2.3" ry="1.9" fill="#c4be4a" transform="rotate(48 1765.3 156.9)"/>
<ellipse cx="1795.1" cy="161.1" rx="2.4" ry="1.4" fill="#d2cc58" transform="rotate(130 1795.1 161.1)"/>
<ellipse cx="1800.5" cy="207.7" rx="3.8" ry="3.0" fill="#aca638" transform="rotate(14 1800.5 207.7)"/>
<ellipse cx="1810.4" cy="187.0" rx="2.1" ry="1.6" fill="#d2cc58" transform="rotate(144 1810.4 187.0)"/>
<ellipse cx="1806.5" cy="189.9" rx="3.6" ry="2.0" fill="#dcd456" transform="rotate(106 1806.5 189.9)"/>
<ellipse cx="1806.9" cy="131.6" rx="3.6" ry="2.2" fill="#d8d25e" transform="rotate(106 1806.9 131.6)"/>
<ellipse cx="1773.0" cy="158.0" rx="3.4" ry="2.2" fill="#d8d25e" transform="rotate(82 1773.0 158.0)"/>
</g>
<g filter="url(#b15)">
<circle cx="1899.0" cy="272.0" r="34.2" fill="#c8c04c"/>
<circle cx="1902.8" cy="234.6" r="9.5" fill="#c8c04c"/>
<circle cx="1880.8" cy="242.2" r="12.3" fill="#c8c04c"/>
<circle cx="1867.3" cy="262.4" r="10.4" fill="#c8c04c"/>
<circle cx="1868.3" cy="280.6" r="9.5" fill="#c8c04c"/>
<circle cx="1876.9" cy="297.0" r="11.4" fill="#c8c04c"/>
<circle cx="1897.1" cy="305.6" r="10.0" fill="#c8c04c"/>
<circle cx="1919.2" cy="298.9" r="11.4" fill="#c8c04c"/>
<circle cx="1932.6" cy="275.8" r="9.0" fill="#c8c04c"/>
<circle cx="1929.7" cy="255.7" r="10.4" fill="#c8c04c"/>
<circle cx="1920.1" cy="241.3" r="10.4" fill="#c8c04c"/>
</g>
<g filter="url(#b1)">
<ellipse cx="1922.2" cy="240.6" rx="2.2" ry="1.7" fill="#e4de72" transform="rotate(132 1922.2 240.6)"/>
<ellipse cx="1900.3" cy="277.5" rx="3.2" ry="2.7" fill="#eae482" transform="rotate(115 1900.3 277.5)"/>
<ellipse cx="1923.8" cy="254.0" rx="2.5" ry="1.4" fill="#c0ba46" transform="rotate(5 1923.8 254.0)"/>
<ellipse cx="1934.7" cy="252.4" rx="3.6" ry="2.2" fill="#b6b03e" transform="rotate(32 1934.7 252.4)"/>
<ellipse cx="1893.9" cy="281.9" rx="2.9" ry="2.5" fill="#dcd664" transform="rotate(121 1893.9 281.9)"/>
<ellipse cx="1914.5" cy="243.3" rx="2.9" ry="2.4" fill="#d8d25e" transform="rotate(66 1914.5 243.3)"/>
<ellipse cx="1928.3" cy="268.5" rx="2.3" ry="1.8" fill="#c0ba46" transform="rotate(129 1928.3 268.5)"/>
<ellipse cx="1867.3" cy="267.2" rx="2.9" ry="2.0" fill="#c0ba46" transform="rotate(143 1867.3 267.2)"/>
<ellipse cx="1926.8" cy="277.2" rx="3.7" ry="2.8" fill="#b6b03e" transform="rotate(88 1926.8 277.2)"/>
<ellipse cx="1933.0" cy="248.0" rx="3.6" ry="2.6" fill="#c0ba46" transform="rotate(139 1933.0 248.0)"/>
<ellipse cx="1923.4" cy="265.3" rx="2.9" ry="2.1" fill="#d8d25e" transform="rotate(117 1923.4 265.3)"/>
<ellipse cx="1896.5" cy="251.1" rx="2.7" ry="2.0" fill="#aca638" transform="rotate(159 1896.5 251.1)"/>
<ellipse cx="1880.6" cy="294.6" rx="3.3" ry="1.9" fill="#e4de72" transform="rotate(118 1880.6 294.6)"/>
<ellipse cx="1876.5" cy="232.8" rx="3.4" ry="2.0" fill="#b6b03e" transform="rotate(48 1876.5 232.8)"/>
<ellipse cx="1937.8" cy="258.9" rx="3.4" ry="1.9" fill="#b6b03e" transform="rotate(65 1937.8 258.9)"/>
<ellipse cx="1875.4" cy="284.7" rx="2.0" ry="1.6" fill="#e4de72" transform="rotate(4 1875.4 284.7)"/>
<ellipse cx="1922.7" cy="261.9" rx="2.9" ry="1.6" fill="#b6b03e" transform="rotate(106 1922.7 261.9)"/>
<ellipse cx="1916.2" cy="276.0" rx="3.1" ry="2.4" fill="#aca638" transform="rotate(20 1916.2 276.0)"/>
<ellipse cx="1891.0" cy="292.9" rx="3.1" ry="1.7" fill="#cec854" transform="rotate(48 1891.0 292.9)"/>
<ellipse cx="1917.3" cy="292.3" rx="2.4" ry="1.8" fill="#c4be4a" transform="rotate(57 1917.3 292.3)"/>
<ellipse cx="1906.0" cy="243.5" rx="2.9" ry="2.3" fill="#aca638" transform="rotate(88 1906.0 243.5)"/>
<ellipse cx="1913.8" cy="268.2" rx="3.1" ry="2.1" fill="#eae482" transform="rotate(3 1913.8 268.2)"/>
<ellipse cx="1917.9" cy="237.3" rx="2.2" ry="1.3" fill="#b6b03e" transform="rotate(82 1917.9 237.3)"/>
<ellipse cx="1927.9" cy="269.0" rx="3.8" ry="2.3" fill="#e4de72" transform="rotate(80 1927.9 269.0)"/>
<ellipse cx="1902.7" cy="298.5" rx="3.1" ry="2.1" fill="#e4de72" transform="rotate(123 1902.7 298.5)"/>
<ellipse cx="1904.4" cy="234.6" rx="2.7" ry="1.6" fill="#b6b03e" transform="rotate(130 1904.4 234.6)"/>
<ellipse cx="1924.9" cy="275.2" rx="2.2" ry="1.2" fill="#c0ba46" transform="rotate(121 1924.9 275.2)"/>
<ellipse cx="1890.3" cy="261.2" rx="3.6" ry="3.0" fill="#cec854" transform="rotate(131 1890.3 261.2)"/>
<ellipse cx="1921.9" cy="275.1" rx="3.6" ry="3.0" fill="#c4be4a" transform="rotate(105 1921.9 275.1)"/>
<ellipse cx="1866.0" cy="262.6" rx="3.7" ry="2.2" fill="#aca638" transform="rotate(66 1866.0 262.6)"/>
<ellipse cx="1912.6" cy="258.3" rx="2.2" ry="1.3" fill="#d2cc58" transform="rotate(140 1912.6 258.3)"/>
<ellipse cx="1926.6" cy="301.8" rx="2.8" ry="2.3" fill="#d2cc58" transform="rotate(110 1926.6 301.8)"/>
<ellipse cx="1878.7" cy="292.9" rx="2.1" ry="1.7" fill="#d8d25e" transform="rotate(35 1878.7 292.9)"/>
<ellipse cx="1896.6" cy="261.0" rx="2.6" ry="2.1" fill="#c4be4a" transform="rotate(46 1896.6 261.0)"/>
<ellipse cx="1913.2" cy="252.5" rx="3.7" ry="2.8" fill="#c0ba46" transform="rotate(4 1913.2 252.5)"/>
<ellipse cx="1896.1" cy="299.5" rx="2.6" ry="1.8" fill="#e4de72" transform="rotate(144 1896.1 299.5)"/>
<ellipse cx="1916.0" cy="252.9" rx="3.3" ry="2.2" fill="#e4de72" transform="rotate(89 1916.0 252.9)"/>
<ellipse cx="1911.9" cy="291.3" rx="3.0" ry="2.3" fill="#c4be4a" transform="rotate(126 1911.9 291.3)"/>
<ellipse cx="1882.2" cy="239.1" rx="2.6" ry="2.2" fill="#cec854" transform="rotate(26 1882.2 239.1)"/>
<ellipse cx="1934.9" cy="268.6" rx="3.2" ry="2.6" fill="#e4de72" transform="rotate(7 1934.9 268.6)"/>
<ellipse cx="1891.7" cy="244.6" rx="2.6" ry="1.6" fill="#dcd664" transform="rotate(52 1891.7 244.6)"/>
<ellipse cx="1909.7" cy="232.4" rx="2.2" ry="1.5" fill="#e4de72" transform="rotate(129 1909.7 232.4)"/>
<ellipse cx="1915.1" cy="296.5" rx="2.4" ry="2.0" fill="#d8d25e" transform="rotate(65 1915.1 296.5)"/>
<ellipse cx="1868.6" cy="298.8" rx="3.5" ry="2.3" fill="#cec854" transform="rotate(133 1868.6 298.8)"/>
<ellipse cx="1880.0" cy="274.1" rx="3.3" ry="2.7" fill="#c0ba46" transform="rotate(127 1880.0 274.1)"/>
<ellipse cx="1874.7" cy="264.5" rx="3.6" ry="2.1" fill="#b6b03e" transform="rotate(148 1874.7 264.5)"/>
<ellipse cx="1905.7" cy="241.6" rx="2.7" ry="2.2" fill="#aca638" transform="rotate(165 1905.7 241.6)"/>
<ellipse cx="1892.2" cy="244.5" rx="3.2" ry="2.5" fill="#b6b03e" transform="rotate(3 1892.2 244.5)"/>
<ellipse cx="1869.4" cy="291.1" rx="3.6" ry="2.1" fill="#b6b03e" transform="rotate(147 1869.4 291.1)"/>
<ellipse cx="1919.2" cy="261.1" rx="2.9" ry="2.1" fill="#cec854" transform="rotate(2 1919.2 261.1)"/>
<ellipse cx="1886.5" cy="270.9" rx="3.3" ry="2.8" fill="#aca638" transform="rotate(137 1886.5 270.9)"/>
<ellipse cx="1871.6" cy="274.5" rx="3.2" ry="2.5" fill="#aca638" transform="rotate(87 1871.6 274.5)"/>
<ellipse cx="1913.7" cy="257.8" rx="3.8" ry="2.8" fill="#cec854" transform="rotate(63 1913.7 257.8)"/>
<ellipse cx="1879.6" cy="252.6" rx="3.3" ry="1.9" fill="#c0ba46" transform="rotate(90 1879.6 252.6)"/>
<ellipse cx="1870.8" cy="284.3" rx="2.8" ry="1.6" fill="#cec854" transform="rotate(6 1870.8 284.3)"/>
<ellipse cx="1883.3" cy="250.7" rx="2.9" ry="1.7" fill="#e4de72" transform="rotate(124 1883.3 250.7)"/>
<ellipse cx="1906.5" cy="257.2" rx="3.2" ry="2.5" fill="#cec854" transform="rotate(118 1906.5 257.2)"/>
<ellipse cx="1908.0" cy="231.7" rx="2.4" ry="1.7" fill="#dcd664" transform="rotate(153 1908.0 231.7)"/>
<ellipse cx="1893.7" cy="302.1" rx="2.4" ry="1.7" fill="#e4de72" transform="rotate(42 1893.7 302.1)"/>
<ellipse cx="1917.9" cy="288.0" rx="3.4" ry="2.8" fill="#aca638" transform="rotate(38 1917.9 288.0)"/>
<ellipse cx="1887.2" cy="275.2" rx="2.8" ry="1.8" fill="#c0ba46" transform="rotate(161 1887.2 275.2)"/>
<ellipse cx="1921.1" cy="246.0" rx="2.3" ry="1.9" fill="#aca638" transform="rotate(84 1921.1 246.0)"/>
<ellipse cx="1906.0" cy="280.5" rx="2.5" ry="1.8" fill="#aca638" transform="rotate(68 1906.0 280.5)"/>
<ellipse cx="1894.7" cy="249.2" rx="3.0" ry="2.3" fill="#cec854" transform="rotate(58 1894.7 249.2)"/>
<ellipse cx="1883.5" cy="289.9" rx="3.4" ry="2.8" fill="#d8d25e" transform="rotate(52 1883.5 289.9)"/>
<ellipse cx="1871.9" cy="264.6" rx="2.9" ry="1.8" fill="#c0ba46" transform="rotate(162 1871.9 264.6)"/>
<ellipse cx="1909.2" cy="263.9" rx="3.7" ry="2.2" fill="#aca638" transform="rotate(5 1909.2 263.9)"/>
<ellipse cx="1924.0" cy="285.1" rx="3.3" ry="2.5" fill="#aca638" transform="rotate(2 1924.0 285.1)"/>
<ellipse cx="1908.4" cy="255.7" rx="2.5" ry="1.9" fill="#aca638" transform="rotate(27 1908.4 255.7)"/>
<ellipse cx="1869.3" cy="272.3" rx="3.4" ry="2.2" fill="#aca638" transform="rotate(25 1869.3 272.3)"/>
<ellipse cx="1890.8" cy="284.5" rx="2.4" ry="1.8" fill="#aca638" transform="rotate(61 1890.8 284.5)"/>
<ellipse cx="1860.8" cy="256.9" rx="2.3" ry="1.3" fill="#e4de72" transform="rotate(80 1860.8 256.9)"/>
<ellipse cx="1871.6" cy="268.0" rx="2.6" ry="2.0" fill="#cec854" transform="rotate(110 1871.6 268.0)"/>
<ellipse cx="1923.8" cy="280.8" rx="2.9" ry="2.3" fill="#d8d25e" transform="rotate(98 1923.8 280.8)"/>
<ellipse cx="1874.0" cy="238.0" rx="3.8" ry="3.2" fill="#c0ba46" transform="rotate(151 1874.0 238.0)"/>
<ellipse cx="1883.7" cy="285.3" rx="3.6" ry="2.5" fill="#c4be4a" transform="rotate(106 1883.7 285.3)"/>
<ellipse cx="1926.0" cy="247.8" rx="2.1" ry="1.4" fill="#d2cc58" transform="rotate(144 1926.0 247.8)"/>
<ellipse cx="1892.1" cy="259.7" rx="2.0" ry="1.4" fill="#aca638" transform="rotate(177 1892.1 259.7)"/>
<ellipse cx="1918.9" cy="239.7" rx="3.6" ry="2.3" fill="#eae482" transform="rotate(87 1918.9 239.7)"/>
<ellipse cx="1891.6" cy="251.1" rx="2.1" ry="1.5" fill="#eae482" transform="rotate(1 1891.6 251.1)"/>
<ellipse cx="1884.5" cy="269.4" rx="2.7" ry="1.5" fill="#b6b03e" transform="rotate(97 1884.5 269.4)"/>
<ellipse cx="1900.7" cy="278.7" rx="2.4" ry="1.6" fill="#cec854" transform="rotate(112 1900.7 278.7)"/>
<ellipse cx="1931.5" cy="270.3" rx="3.7" ry="2.2" fill="#dcd664" transform="rotate(19 1931.5 270.3)"/>
<ellipse cx="1868.7" cy="267.8" rx="2.5" ry="1.7" fill="#cec854" transform="rotate(77 1868.7 267.8)"/>
<ellipse cx="1896.1" cy="281.0" rx="2.2" ry="1.4" fill="#c0ba46" transform="rotate(95 1896.1 281.0)"/>
<ellipse cx="1921.1" cy="248.9" rx="3.3" ry="2.4" fill="#eae482" transform="rotate(6 1921.1 248.9)"/>
<ellipse cx="1878.4" cy="303.1" rx="2.1" ry="1.2" fill="#e4de72" transform="rotate(4 1878.4 303.1)"/>
<ellipse cx="1866.5" cy="280.9" rx="3.4" ry="2.7" fill="#d8d25e" transform="rotate(150 1866.5 280.9)"/>
<ellipse cx="1887.8" cy="244.1" rx="2.3" ry="1.7" fill="#c4be4a" transform="rotate(165 1887.8 244.1)"/>
<ellipse cx="1925.1" cy="237.6" rx="2.5" ry="1.5" fill="#e4de72" transform="rotate(148 1925.1 237.6)"/>
<ellipse cx="1916.6" cy="298.6" rx="3.6" ry="2.7" fill="#e4de72" transform="rotate(6 1916.6 298.6)"/>
<ellipse cx="1872.8" cy="267.7" rx="2.5" ry="2.0" fill="#aca638" transform="rotate(39 1872.8 267.7)"/>
<ellipse cx="1895.8" cy="249.0" rx="3.3" ry="2.7" fill="#dcd664" transform="rotate(77 1895.8 249.0)"/>
<ellipse cx="1869.6" cy="275.2" rx="2.8" ry="1.8" fill="#e4de72" transform="rotate(85 1869.6 275.2)"/>
<ellipse cx="1874.5" cy="238.7" rx="3.4" ry="2.7" fill="#c4be4a" transform="rotate(61 1874.5 238.7)"/>
<ellipse cx="1877.0" cy="254.9" rx="2.4" ry="1.8" fill="#dcd664" transform="rotate(119 1877.0 254.9)"/>
<ellipse cx="1866.9" cy="284.2" rx="3.5" ry="2.2" fill="#d2cc58" transform="rotate(2 1866.9 284.2)"/>
<ellipse cx="1892.4" cy="287.7" rx="2.5" ry="1.9" fill="#c0ba46" transform="rotate(62 1892.4 287.7)"/>
<ellipse cx="1874.0" cy="276.7" rx="2.5" ry="1.8" fill="#dcd664" transform="rotate(38 1874.0 276.7)"/>
<ellipse cx="1878.8" cy="244.1" rx="3.1" ry="2.5" fill="#c0ba46" transform="rotate(116 1878.8 244.1)"/>
<ellipse cx="1902.5" cy="257.8" rx="3.0" ry="2.4" fill="#b6b03e" transform="rotate(154 1902.5 257.8)"/>
<ellipse cx="1890.9" cy="245.0" rx="3.1" ry="2.3" fill="#b6b03e" transform="rotate(94 1890.9 245.0)"/>
<ellipse cx="1863.0" cy="260.6" rx="2.4" ry="2.0" fill="#cec854" transform="rotate(132 1863.0 260.6)"/>
<ellipse cx="1880.8" cy="277.2" rx="3.7" ry="2.4" fill="#d2cc58" transform="rotate(43 1880.8 277.2)"/>
<ellipse cx="1903.8" cy="232.3" rx="3.7" ry="2.8" fill="#cec854" transform="rotate(10 1903.8 232.3)"/>
<ellipse cx="1889.5" cy="271.1" rx="2.9" ry="2.1" fill="#d8d25e" transform="rotate(141 1889.5 271.1)"/>
<ellipse cx="1874.6" cy="278.2" rx="2.5" ry="1.4" fill="#dcd664" transform="rotate(8 1874.6 278.2)"/>
<ellipse cx="1899.4" cy="278.6" rx="2.3" ry="1.4" fill="#eae482" transform="rotate(137 1899.4 278.6)"/>
<ellipse cx="1901.5" cy="231.8" rx="3.3" ry="1.8" fill="#e4de72" transform="rotate(92 1901.5 231.8)"/>
<ellipse cx="1915.9" cy="265.9" rx="2.6" ry="2.2" fill="#c4be4a" transform="rotate(109 1915.9 265.9)"/>
<ellipse cx="1875.2" cy="250.1" rx="3.7" ry="2.3" fill="#e4de72" transform="rotate(86 1875.2 250.1)"/>
<ellipse cx="1903.7" cy="271.0" rx="2.6" ry="2.1" fill="#eae482" transform="rotate(1 1903.7 271.0)"/>
<ellipse cx="1878.7" cy="294.9" rx="3.0" ry="2.2" fill="#cec854" transform="rotate(78 1878.7 294.9)"/>
<ellipse cx="1908.8" cy="293.4" rx="2.0" ry="1.6" fill="#aca638" transform="rotate(130 1908.8 293.4)"/>
<ellipse cx="1866.1" cy="288.2" rx="2.1" ry="1.3" fill="#b6b03e" transform="rotate(142 1866.1 288.2)"/>
<ellipse cx="1907.4" cy="266.6" rx="3.1" ry="1.8" fill="#b6b03e" transform="rotate(42 1907.4 266.6)"/>
<ellipse cx="1896.0" cy="264.0" rx="3.5" ry="2.6" fill="#eae482" transform="rotate(40 1896.0 264.0)"/>
<ellipse cx="1897.6" cy="233.7" rx="3.6" ry="2.1" fill="#c0ba46" transform="rotate(77 1897.6 233.7)"/>
<ellipse cx="1886.2" cy="300.2" rx="2.3" ry="1.9" fill="#d8d25e" transform="rotate(170 1886.2 300.2)"/>
<ellipse cx="1931.9" cy="248.7" rx="2.3" ry="1.7" fill="#aca638" transform="rotate(23 1931.9 248.7)"/>
<ellipse cx="1898.9" cy="285.0" rx="2.3" ry="1.5" fill="#c0ba46" transform="rotate(113 1898.9 285.0)"/>
<ellipse cx="1906.5" cy="290.4" rx="3.4" ry="2.2" fill="#d2cc58" transform="rotate(114 1906.5 290.4)"/>
<ellipse cx="1918.0" cy="297.7" rx="2.5" ry="2.0" fill="#eae482" transform="rotate(175 1918.0 297.7)"/>
<ellipse cx="1897.9" cy="287.6" rx="2.8" ry="2.0" fill="#d8d25e" transform="rotate(94 1897.9 287.6)"/>
<ellipse cx="1887.4" cy="252.8" rx="3.0" ry="2.0" fill="#aca638" transform="rotate(171 1887.4 252.8)"/>
<ellipse cx="1870.5" cy="271.0" rx="3.3" ry="2.5" fill="#c4be4a" transform="rotate(173 1870.5 271.0)"/>
<ellipse cx="1877.9" cy="277.2" rx="2.2" ry="1.7" fill="#c0ba46" transform="rotate(150 1877.9 277.2)"/>
<ellipse cx="1881.7" cy="233.2" rx="2.7" ry="2.1" fill="#dcd664" transform="rotate(63 1881.7 233.2)"/>
<ellipse cx="1909.0" cy="264.4" rx="2.8" ry="2.1" fill="#dcd664" transform="rotate(130 1909.0 264.4)"/>
<ellipse cx="1918.3" cy="260.0" rx="2.7" ry="2.0" fill="#e4de72" transform="rotate(141 1918.3 260.0)"/>
<ellipse cx="1865.7" cy="276.0" rx="2.1" ry="1.4" fill="#aca638" transform="rotate(21 1865.7 276.0)"/>
<ellipse cx="1891.2" cy="289.5" rx="3.3" ry="2.8" fill="#eae482" transform="rotate(141 1891.2 289.5)"/>
<ellipse cx="1872.3" cy="248.2" rx="2.8" ry="1.6" fill="#d2cc58" transform="rotate(3 1872.3 248.2)"/>
<ellipse cx="1915.1" cy="291.5" rx="2.0" ry="1.4" fill="#d8d25e" transform="rotate(117 1915.1 291.5)"/>
<ellipse cx="1925.3" cy="236.1" rx="3.0" ry="1.9" fill="#dcd664" transform="rotate(110 1925.3 236.1)"/>
<ellipse cx="1902.6" cy="253.5" rx="3.1" ry="2.1" fill="#c4be4a" transform="rotate(137 1902.6 253.5)"/>
<ellipse cx="1885.7" cy="265.4" rx="3.5" ry="3.0" fill="#b6b03e" transform="rotate(33 1885.7 265.4)"/>
<ellipse cx="1898.9" cy="229.3" rx="2.4" ry="1.6" fill="#e4de72" transform="rotate(72 1898.9 229.3)"/>
<ellipse cx="1876.5" cy="241.9" rx="2.7" ry="1.9" fill="#dcd664" transform="rotate(65 1876.5 241.9)"/>
<ellipse cx="1867.3" cy="274.2" rx="2.3" ry="1.6" fill="#dcd664" transform="rotate(1 1867.3 274.2)"/>
<ellipse cx="1934.0" cy="255.5" rx="3.1" ry="2.1" fill="#dcd664" transform="rotate(115 1934.0 255.5)"/>
<ellipse cx="1895.7" cy="269.0" rx="2.6" ry="1.5" fill="#aca638" transform="rotate(6 1895.7 269.0)"/>
<ellipse cx="1920.3" cy="292.4" rx="2.3" ry="1.8" fill="#c0ba46" transform="rotate(158 1920.3 292.4)"/>
<ellipse cx="1926.7" cy="252.0" rx="3.6" ry="2.5" fill="#eae482" transform="rotate(164 1926.7 252.0)"/>
<ellipse cx="1866.2" cy="288.3" rx="3.0" ry="2.1" fill="#dcd664" transform="rotate(14 1866.2 288.3)"/>
<ellipse cx="1888.7" cy="299.0" rx="3.5" ry="2.7" fill="#d2cc58" transform="rotate(83 1888.7 299.0)"/>
<ellipse cx="1902.2" cy="295.5" rx="3.1" ry="2.5" fill="#b6b03e" transform="rotate(116 1902.2 295.5)"/>
<ellipse cx="1903.5" cy="269.6" rx="2.2" ry="1.3" fill="#eae482" transform="rotate(140 1903.5 269.6)"/>
<ellipse cx="1902.2" cy="298.7" rx="3.3" ry="1.9" fill="#cec854" transform="rotate(24 1902.2 298.7)"/>
<ellipse cx="1879.4" cy="304.0" rx="2.0" ry="1.1" fill="#c4be4a" transform="rotate(115 1879.4 304.0)"/>
<ellipse cx="1919.3" cy="295.2" rx="3.3" ry="2.8" fill="#c0ba46" transform="rotate(122 1919.3 295.2)"/>
<ellipse cx="1864.8" cy="270.7" rx="2.3" ry="1.8" fill="#c4be4a" transform="rotate(1 1864.8 270.7)"/>
<ellipse cx="1928.2" cy="281.6" rx="2.3" ry="1.5" fill="#eae482" transform="rotate(102 1928.2 281.6)"/>
<ellipse cx="1913.4" cy="271.3" rx="3.3" ry="2.6" fill="#c4be4a" transform="rotate(145 1913.4 271.3)"/>
<ellipse cx="1930.8" cy="272.6" rx="3.2" ry="1.8" fill="#cec854" transform="rotate(175 1930.8 272.6)"/>
<ellipse cx="1926.6" cy="251.3" rx="2.3" ry="2.0" fill="#d2cc58" transform="rotate(118 1926.6 251.3)"/>
<ellipse cx="1909.9" cy="268.6" rx="3.4" ry="2.6" fill="#d8d25e" transform="rotate(114 1909.9 268.6)"/>
<ellipse cx="1904.8" cy="233.2" rx="3.5" ry="2.7" fill="#d8d25e" transform="rotate(32 1904.8 233.2)"/>
<ellipse cx="1875.6" cy="284.2" rx="2.2" ry="1.4" fill="#cec854" transform="rotate(122 1875.6 284.2)"/>
<ellipse cx="1896.4" cy="278.1" rx="2.2" ry="1.2" fill="#e4de72" transform="rotate(21 1896.4 278.1)"/>
<ellipse cx="1900.2" cy="291.5" rx="2.1" ry="1.2" fill="#dcd664" transform="rotate(24 1900.2 291.5)"/>
<ellipse cx="1923.1" cy="270.9" rx="3.4" ry="2.3" fill="#d2cc58" transform="rotate(20 1923.1 270.9)"/>
<ellipse cx="1870.1" cy="277.5" rx="2.0" ry="1.6" fill="#aca638" transform="rotate(68 1870.1 277.5)"/>
<ellipse cx="1923.4" cy="307.1" rx="3.5" ry="2.5" fill="#e4de72" transform="rotate(174 1923.4 307.1)"/>
<ellipse cx="1880.9" cy="282.5" rx="3.5" ry="2.7" fill="#dcd664" transform="rotate(177 1880.9 282.5)"/>
<ellipse cx="1860.2" cy="266.3" rx="2.8" ry="1.9" fill="#eae482" transform="rotate(124 1860.2 266.3)"/>
<ellipse cx="1927.9" cy="273.4" rx="3.6" ry="2.5" fill="#eae482" transform="rotate(16 1927.9 273.4)"/>
<ellipse cx="1898.4" cy="233.9" rx="3.7" ry="2.5" fill="#b6b03e" transform="rotate(19 1898.4 233.9)"/>
<ellipse cx="1911.9" cy="245.0" rx="3.6" ry="2.5" fill="#dcd664" transform="rotate(161 1911.9 245.0)"/>
<ellipse cx="1916.8" cy="305.2" rx="3.4" ry="1.9" fill="#dcd664" transform="rotate(67 1916.8 305.2)"/>
<ellipse cx="1900.4" cy="266.0" rx="3.0" ry="2.5" fill="#e4de72" transform="rotate(98 1900.4 266.0)"/>
<ellipse cx="1909.0" cy="288.1" rx="2.4" ry="1.9" fill="#b6b03e" transform="rotate(36 1909.0 288.1)"/>
<ellipse cx="1898.5" cy="287.9" rx="2.5" ry="1.4" fill="#cec854" transform="rotate(112 1898.5 287.9)"/>
<ellipse cx="1897.6" cy="265.0" rx="2.9" ry="2.1" fill="#d2cc58" transform="rotate(169 1897.6 265.0)"/>
<ellipse cx="1901.6" cy="278.0" rx="2.7" ry="2.2" fill="#eae482" transform="rotate(80 1901.6 278.0)"/>
<ellipse cx="1936.9" cy="277.1" rx="2.8" ry="1.7" fill="#c0ba46" transform="rotate(69 1936.9 277.1)"/>
<ellipse cx="1893.4" cy="256.6" rx="3.2" ry="1.9" fill="#cec854" transform="rotate(142 1893.4 256.6)"/>
<ellipse cx="1937.9" cy="278.1" rx="2.3" ry="1.3" fill="#d8d25e" transform="rotate(39 1937.9 278.1)"/>
<ellipse cx="1867.3" cy="298.4" rx="3.6" ry="2.7" fill="#c4be4a" transform="rotate(106 1867.3 298.4)"/>
<ellipse cx="1920.6" cy="299.6" rx="3.0" ry="2.5" fill="#eae482" transform="rotate(149 1920.6 299.6)"/>
<ellipse cx="1914.0" cy="274.7" rx="2.0" ry="1.5" fill="#e4de72" transform="rotate(167 1914.0 274.7)"/>
<ellipse cx="1886.3" cy="250.8" rx="3.2" ry="2.1" fill="#dcd664" transform="rotate(43 1886.3 250.8)"/>
<ellipse cx="1931.4" cy="270.1" rx="2.1" ry="1.3" fill="#b6b03e" transform="rotate(43 1931.4 270.1)"/>
<ellipse cx="1905.1" cy="258.7" rx="3.5" ry="2.6" fill="#dcd664" transform="rotate(146 1905.1 258.7)"/>
<ellipse cx="1913.7" cy="237.6" rx="2.5" ry="1.9" fill="#b6b03e" transform="rotate(158 1913.7 237.6)"/>
<ellipse cx="1859.2" cy="258.6" rx="3.8" ry="2.5" fill="#b6b03e" transform="rotate(125 1859.2 258.6)"/>
<ellipse cx="1897.2" cy="280.6" rx="3.5" ry="2.5" fill="#e4de72" transform="rotate(118 1897.2 280.6)"/>
<ellipse cx="1907.2" cy="233.0" rx="3.2" ry="2.5" fill="#c0ba46" transform="rotate(176 1907.2 233.0)"/>
<ellipse cx="1913.4" cy="289.5" rx="2.5" ry="2.1" fill="#d8d25e" transform="rotate(76 1913.4 289.5)"/>
<ellipse cx="1893.2" cy="264.5" rx="3.0" ry="2.2" fill="#d8d25e" transform="rotate(42 1893.2 264.5)"/>
<ellipse cx="1869.7" cy="263.4" rx="2.3" ry="1.3" fill="#c0ba46" transform="rotate(68 1869.7 263.4)"/>
<ellipse cx="1887.6" cy="255.8" rx="2.4" ry="1.5" fill="#dcd664" transform="rotate(56 1887.6 255.8)"/>
<ellipse cx="1897.5" cy="299.0" rx="3.7" ry="2.8" fill="#d2cc58" transform="rotate(149 1897.5 299.0)"/>
<ellipse cx="1891.7" cy="297.7" rx="3.7" ry="2.9" fill="#c4be4a" transform="rotate(37 1891.7 297.7)"/>
<ellipse cx="1906.7" cy="278.5" rx="3.0" ry="2.2" fill="#d2cc58" transform="rotate(113 1906.7 278.5)"/>
<ellipse cx="1876.7" cy="292.8" rx="3.6" ry="3.0" fill="#c4be4a" transform="rotate(149 1876.7 292.8)"/>
<ellipse cx="1931.2" cy="283.3" rx="3.6" ry="2.1" fill="#dcd664" transform="rotate(177 1931.2 283.3)"/>
<ellipse cx="1894.7" cy="312.8" rx="2.2" ry="1.6" fill="#d2cc58" transform="rotate(5 1894.7 312.8)"/>
<ellipse cx="1874.1" cy="257.8" rx="2.8" ry="1.6" fill="#d2cc58" transform="rotate(161 1874.1 257.8)"/>
<ellipse cx="1928.1" cy="297.2" rx="2.6" ry="1.5" fill="#e4de72" transform="rotate(161 1928.1 297.2)"/>
<ellipse cx="1900.1" cy="305.1" rx="3.7" ry="2.1" fill="#e4de72" transform="rotate(178 1900.1 305.1)"/>
<ellipse cx="1924.4" cy="298.7" rx="3.1" ry="2.5" fill="#d8d25e" transform="rotate(68 1924.4 298.7)"/>
<ellipse cx="1922.2" cy="247.4" rx="2.2" ry="1.5" fill="#d2cc58" transform="rotate(157 1922.2 247.4)"/>
<ellipse cx="1875.8" cy="283.0" rx="3.2" ry="2.4" fill="#eae482" transform="rotate(157 1875.8 283.0)"/>
<ellipse cx="1881.7" cy="250.0" rx="2.1" ry="1.6" fill="#cec854" transform="rotate(95 1881.7 250.0)"/>
<ellipse cx="1883.2" cy="277.1" rx="3.7" ry="2.5" fill="#dcd664" transform="rotate(43 1883.2 277.1)"/>
<ellipse cx="1932.7" cy="278.5" rx="2.1" ry="1.5" fill="#cec854" transform="rotate(23 1932.7 278.5)"/>
<ellipse cx="1889.6" cy="244.0" rx="3.3" ry="1.8" fill="#d2cc58" transform="rotate(167 1889.6 244.0)"/>
<ellipse cx="1923.5" cy="296.3" rx="3.4" ry="2.0" fill="#aca638" transform="rotate(90 1923.5 296.3)"/>
<ellipse cx="1866.0" cy="272.6" rx="3.1" ry="1.9" fill="#b6b03e" transform="rotate(75 1866.0 272.6)"/>
<ellipse cx="1903.0" cy="287.0" rx="3.5" ry="2.9" fill="#c0ba46" transform="rotate(39 1903.0 287.0)"/>
<ellipse cx="1932.6" cy="270.5" rx="3.4" ry="1.9" fill="#eae482" transform="rotate(56 1932.6 270.5)"/>
<ellipse cx="1871.3" cy="261.0" rx="2.8" ry="1.9" fill="#dcd664" transform="rotate(95 1871.3 261.0)"/>
<ellipse cx="1877.6" cy="252.2" rx="3.3" ry="2.6" fill="#d2cc58" transform="rotate(93 1877.6 252.2)"/>
<ellipse cx="1903.9" cy="249.0" rx="3.1" ry="2.3" fill="#d8d25e" transform="rotate(71 1903.9 249.0)"/>
<ellipse cx="1878.9" cy="240.2" rx="2.4" ry="1.8" fill="#aca638" transform="rotate(172 1878.9 240.2)"/>
<ellipse cx="1903.9" cy="259.0" rx="3.1" ry="1.9" fill="#c0ba46" transform="rotate(11 1903.9 259.0)"/>
<ellipse cx="1902.9" cy="277.3" rx="3.2" ry="1.8" fill="#eae482" transform="rotate(30 1902.9 277.3)"/>
<ellipse cx="1896.9" cy="299.0" rx="2.6" ry="2.0" fill="#c0ba46" transform="rotate(122 1896.9 299.0)"/>
<ellipse cx="1878.7" cy="304.2" rx="3.1" ry="1.7" fill="#d8d25e" transform="rotate(108 1878.7 304.2)"/>
<ellipse cx="1924.7" cy="259.0" rx="3.1" ry="2.5" fill="#d2cc58" transform="rotate(51 1924.7 259.0)"/>
<ellipse cx="1911.0" cy="273.3" rx="3.2" ry="1.9" fill="#c4be4a" transform="rotate(171 1911.0 273.3)"/>
<ellipse cx="1928.5" cy="274.4" rx="3.6" ry="2.1" fill="#e4de72" transform="rotate(62 1928.5 274.4)"/>
<ellipse cx="1892.8" cy="262.4" rx="2.5" ry="1.7" fill="#eae482" transform="rotate(155 1892.8 262.4)"/>
<ellipse cx="1879.2" cy="263.2" rx="3.1" ry="2.2" fill="#cec854" transform="rotate(78 1879.2 263.2)"/>
<ellipse cx="1924.1" cy="285.8" rx="2.3" ry="1.5" fill="#d8d25e" transform="rotate(87 1924.1 285.8)"/>
<ellipse cx="1881.7" cy="282.5" rx="3.5" ry="2.2" fill="#c0ba46" transform="rotate(165 1881.7 282.5)"/>
<ellipse cx="1877.0" cy="272.4" rx="3.1" ry="2.6" fill="#c4be4a" transform="rotate(36 1877.0 272.4)"/>
<ellipse cx="1906.7" cy="258.7" rx="2.0" ry="1.6" fill="#cec854" transform="rotate(175 1906.7 258.7)"/>
<ellipse cx="1893.6" cy="308.2" rx="3.2" ry="2.5" fill="#cec854" transform="rotate(48 1893.6 308.2)"/>
<ellipse cx="1911.8" cy="272.0" rx="2.5" ry="1.5" fill="#aca638" transform="rotate(36 1911.8 272.0)"/>
<ellipse cx="1890.2" cy="302.3" rx="3.3" ry="2.7" fill="#d2cc58" transform="rotate(106 1890.2 302.3)"/>
<ellipse cx="1899.2" cy="296.4" rx="2.7" ry="1.6" fill="#cec854" transform="rotate(36 1899.2 296.4)"/>
<ellipse cx="1917.3" cy="236.0" rx="2.7" ry="1.6" fill="#dcd664" transform="rotate(81 1917.3 236.0)"/>
<ellipse cx="1864.7" cy="276.2" rx="2.9" ry="1.8" fill="#b6b03e" transform="rotate(112 1864.7 276.2)"/>
<ellipse cx="1901.3" cy="300.3" rx="2.9" ry="1.8" fill="#cec854" transform="rotate(123 1901.3 300.3)"/>
<ellipse cx="1870.8" cy="266.7" rx="2.6" ry="1.9" fill="#cec854" transform="rotate(171 1870.8 266.7)"/>
<ellipse cx="1909.8" cy="279.2" rx="3.7" ry="2.4" fill="#b6b03e" transform="rotate(145 1909.8 279.2)"/>
<ellipse cx="1867.8" cy="255.2" rx="2.2" ry="1.4" fill="#eae482" transform="rotate(82 1867.8 255.2)"/>
<ellipse cx="1879.8" cy="293.2" rx="2.5" ry="1.8" fill="#eae482" transform="rotate(86 1879.8 293.2)"/>
<ellipse cx="1917.9" cy="264.6" rx="2.1" ry="1.4" fill="#dcd664" transform="rotate(95 1917.9 264.6)"/>
<ellipse cx="1930.3" cy="260.9" rx="2.7" ry="1.9" fill="#aca638" transform="rotate(162 1930.3 260.9)"/>
<ellipse cx="1864.2" cy="255.5" rx="2.1" ry="1.6" fill="#eae482" transform="rotate(125 1864.2 255.5)"/>
<ellipse cx="1929.2" cy="274.4" rx="3.0" ry="2.0" fill="#e4de72" transform="rotate(39 1929.2 274.4)"/>
<ellipse cx="1869.1" cy="276.0" rx="3.1" ry="1.9" fill="#d2cc58" transform="rotate(104 1869.1 276.0)"/>
<ellipse cx="1865.7" cy="273.5" rx="3.4" ry="1.9" fill="#d2cc58" transform="rotate(98 1865.7 273.5)"/>
<ellipse cx="1891.5" cy="262.1" rx="2.3" ry="1.7" fill="#cec854" transform="rotate(54 1891.5 262.1)"/>
<ellipse cx="1878.2" cy="260.2" rx="3.2" ry="2.3" fill="#d2cc58" transform="rotate(84 1878.2 260.2)"/>
<ellipse cx="1897.2" cy="243.5" rx="2.4" ry="1.4" fill="#b6b03e" transform="rotate(38 1897.2 243.5)"/>
<ellipse cx="1913.8" cy="276.9" rx="2.2" ry="1.6" fill="#cec854" transform="rotate(36 1913.8 276.9)"/>
<ellipse cx="1885.4" cy="265.9" rx="2.9" ry="2.1" fill="#eae482" transform="rotate(13 1885.4 265.9)"/>
<ellipse cx="1909.2" cy="263.6" rx="2.6" ry="1.8" fill="#dcd664" transform="rotate(146 1909.2 263.6)"/>
<ellipse cx="1888.7" cy="260.0" rx="3.1" ry="1.8" fill="#dcd664" transform="rotate(95 1888.7 260.0)"/>
<ellipse cx="1900.1" cy="299.4" rx="2.4" ry="1.6" fill="#dcd664" transform="rotate(78 1900.1 299.4)"/>
<ellipse cx="1865.4" cy="275.9" rx="3.2" ry="2.2" fill="#e4de72" transform="rotate(25 1865.4 275.9)"/>
<ellipse cx="1908.5" cy="269.8" rx="2.3" ry="1.6" fill="#d8d25e" transform="rotate(123 1908.5 269.8)"/>
<ellipse cx="1890.3" cy="243.6" rx="3.7" ry="3.1" fill="#c4be4a" transform="rotate(175 1890.3 243.6)"/>
<ellipse cx="1874.5" cy="277.4" rx="3.4" ry="2.6" fill="#aca638" transform="rotate(176 1874.5 277.4)"/>
<ellipse cx="1911.0" cy="251.7" rx="3.1" ry="2.2" fill="#eae482" transform="rotate(135 1911.0 251.7)"/>
<ellipse cx="1903.5" cy="253.0" rx="3.3" ry="2.7" fill="#dcd664" transform="rotate(95 1903.5 253.0)"/>
</g>
<g filter="url(#b15)">
<circle cx="1822.0" cy="363.0" r="38.0" fill="#c8c04c"/>
<circle cx="1816.0" cy="322.7" r="11.4" fill="#c8c04c"/>
<circle cx="1841.2" cy="330.4" r="12.3" fill="#c8c04c"/>
<circle cx="1861.8" cy="359.5" r="8.5" fill="#c8c04c"/>
<circle cx="1857.5" cy="373.2" r="11.4" fill="#c8c04c"/>
<circle cx="1843.4" cy="389.9" r="11.4" fill="#c8c04c"/>
<circle cx="1819.5" cy="401.9" r="11.9" fill="#c8c04c"/>
<circle cx="1801.3" cy="393.2" r="12.3" fill="#c8c04c"/>
<circle cx="1784.0" cy="377.8" r="10.0" fill="#c8c04c"/>
<circle cx="1783.1" cy="357.2" r="10.0" fill="#c8c04c"/>
<circle cx="1786.5" cy="340.9" r="10.4" fill="#c8c04c"/>
<circle cx="1800.1" cy="330.4" r="12.3" fill="#c8c04c"/>
</g>
<g filter="url(#b1)">
<ellipse cx="1802.4" cy="357.4" rx="3.1" ry="2.3" fill="#d2cc58" transform="rotate(12 1802.4 357.4)"/>
<ellipse cx="1779.8" cy="342.2" rx="2.3" ry="1.8" fill="#eae482" transform="rotate(97 1779.8 342.2)"/>
<ellipse cx="1813.7" cy="353.0" rx="3.1" ry="2.5" fill="#d2cc58" transform="rotate(94 1813.7 353.0)"/>
<ellipse cx="1865.5" cy="376.6" rx="3.1" ry="2.0" fill="#e4de72" transform="rotate(6 1865.5 376.6)"/>
<ellipse cx="1815.9" cy="332.3" rx="3.3" ry="2.7" fill="#d8d25e" transform="rotate(71 1815.9 332.3)"/>
<ellipse cx="1850.8" cy="350.7" rx="2.2" ry="1.3" fill="#dcd658" transform="rotate(39 1850.8 350.7)"/>
<ellipse cx="1809.2" cy="349.9" rx="2.9" ry="1.9" fill="#d8d25e" transform="rotate(63 1809.2 349.9)"/>
<ellipse cx="1824.1" cy="382.3" rx="3.6" ry="2.0" fill="#d8d25e" transform="rotate(50 1824.1 382.3)"/>
<ellipse cx="1862.3" cy="381.2" rx="3.7" ry="3.1" fill="#dcd658" transform="rotate(102 1862.3 381.2)"/>
<ellipse cx="1834.4" cy="340.9" rx="2.5" ry="1.4" fill="#c0ba46" transform="rotate(154 1834.4 340.9)"/>
<ellipse cx="1828.7" cy="342.6" rx="2.3" ry="1.4" fill="#c4be4a" transform="rotate(138 1828.7 342.6)"/>
<ellipse cx="1816.7" cy="358.3" rx="3.3" ry="2.1" fill="#e4de72" transform="rotate(159 1816.7 358.3)"/>
<ellipse cx="1840.6" cy="362.8" rx="2.1" ry="1.6" fill="#b6b03e" transform="rotate(6 1840.6 362.8)"/>
<ellipse cx="1798.7" cy="335.8" rx="3.2" ry="2.7" fill="#aca638" transform="rotate(61 1798.7 335.8)"/>
<ellipse cx="1805.4" cy="326.4" rx="2.8" ry="2.0" fill="#d8d25e" transform="rotate(116 1805.4 326.4)"/>
<ellipse cx="1865.4" cy="379.1" rx="3.5" ry="2.2" fill="#b6b03e" transform="rotate(114 1865.4 379.1)"/>
<ellipse cx="1782.2" cy="342.7" rx="2.5" ry="1.7" fill="#d8d25e" transform="rotate(142 1782.2 342.7)"/>
<ellipse cx="1803.7" cy="381.0" rx="2.2" ry="1.7" fill="#aca638" transform="rotate(60 1803.7 381.0)"/>
<ellipse cx="1852.4" cy="379.9" rx="3.3" ry="1.9" fill="#dcd658" transform="rotate(11 1852.4 379.9)"/>
<ellipse cx="1804.0" cy="382.4" rx="2.5" ry="1.9" fill="#dcd664" transform="rotate(32 1804.0 382.4)"/>
<ellipse cx="1804.4" cy="381.9" rx="2.5" ry="1.7" fill="#d2cc58" transform="rotate(139 1804.4 381.9)"/>
<ellipse cx="1798.5" cy="326.8" rx="2.9" ry="2.2" fill="#aca638" transform="rotate(48 1798.5 326.8)"/>
<ellipse cx="1796.3" cy="374.1" rx="2.2" ry="1.4" fill="#b6b03e" transform="rotate(60 1796.3 374.1)"/>
<ellipse cx="1830.5" cy="352.2" rx="2.6" ry="1.9" fill="#c0ba46" transform="rotate(159 1830.5 352.2)"/>
<ellipse cx="1823.4" cy="357.0" rx="3.7" ry="2.4" fill="#d8d25e" transform="rotate(151 1823.4 357.0)"/>
<ellipse cx="1816.6" cy="392.6" rx="3.2" ry="2.5" fill="#dcd664" transform="rotate(62 1816.6 392.6)"/>
<ellipse cx="1791.4" cy="359.4" rx="2.8" ry="2.1" fill="#d8d25e" transform="rotate(52 1791.4 359.4)"/>
<ellipse cx="1833.6" cy="356.7" rx="2.0" ry="1.7" fill="#eae482" transform="rotate(158 1833.6 356.7)"/>
<ellipse cx="1852.6" cy="353.1" rx="2.4" ry="1.9" fill="#dcd658" transform="rotate(151 1852.6 353.1)"/>
<ellipse cx="1827.0" cy="400.1" rx="3.6" ry="2.9" fill="#e4de72" transform="rotate(154 1827.0 400.1)"/>
<ellipse cx="1822.2" cy="369.3" rx="3.4" ry="2.4" fill="#cec854" transform="rotate(36 1822.2 369.3)"/>
<ellipse cx="1850.5" cy="331.2" rx="2.3" ry="1.5" fill="#eae482" transform="rotate(119 1850.5 331.2)"/>
<ellipse cx="1825.1" cy="325.8" rx="2.2" ry="1.3" fill="#eae482" transform="rotate(175 1825.1 325.8)"/>
<ellipse cx="1826.0" cy="343.6" rx="2.4" ry="1.7" fill="#dcd664" transform="rotate(147 1826.0 343.6)"/>
<ellipse cx="1817.3" cy="394.2" rx="2.2" ry="1.8" fill="#d8d25e" transform="rotate(88 1817.3 394.2)"/>
<ellipse cx="1788.4" cy="379.2" rx="2.5" ry="1.8" fill="#c0ba46" transform="rotate(76 1788.4 379.2)"/>
<ellipse cx="1835.1" cy="334.9" rx="3.4" ry="1.9" fill="#c0ba46" transform="rotate(9 1835.1 334.9)"/>
<ellipse cx="1802.0" cy="327.9" rx="2.9" ry="1.9" fill="#aca638" transform="rotate(57 1802.0 327.9)"/>
<ellipse cx="1807.8" cy="374.8" rx="2.5" ry="2.1" fill="#dcd664" transform="rotate(77 1807.8 374.8)"/>
<ellipse cx="1814.7" cy="316.7" rx="2.1" ry="1.3" fill="#d8d25e" transform="rotate(67 1814.7 316.7)"/>
<ellipse cx="1849.8" cy="371.1" rx="2.1" ry="1.7" fill="#dcd658" transform="rotate(10 1849.8 371.1)"/>
<ellipse cx="1815.7" cy="342.3" rx="3.2" ry="2.2" fill="#eae482" transform="rotate(44 1815.7 342.3)"/>
<ellipse cx="1796.7" cy="347.0" rx="2.4" ry="1.4" fill="#aca638" transform="rotate(5 1796.7 347.0)"/>
<ellipse cx="1845.8" cy="345.2" rx="2.5" ry="1.7" fill="#dcd658" transform="rotate(22 1845.8 345.2)"/>
<ellipse cx="1778.7" cy="376.8" rx="2.2" ry="1.4" fill="#d8d25e" transform="rotate(96 1778.7 376.8)"/>
<ellipse cx="1838.6" cy="390.7" rx="2.7" ry="1.9" fill="#dcd658" transform="rotate(102 1838.6 390.7)"/>
<ellipse cx="1783.7" cy="358.4" rx="3.5" ry="2.1" fill="#dcd658" transform="rotate(152 1783.7 358.4)"/>
<ellipse cx="1816.1" cy="346.2" rx="2.5" ry="1.5" fill="#d8d25e" transform="rotate(179 1816.1 346.2)"/>
<ellipse cx="1819.6" cy="352.3" rx="3.3" ry="2.8" fill="#aca638" transform="rotate(11 1819.6 352.3)"/>
<ellipse cx="1785.0" cy="380.0" rx="3.8" ry="2.8" fill="#cec854" transform="rotate(82 1785.0 380.0)"/>
<ellipse cx="1795.7" cy="344.0" rx="3.0" ry="2.5" fill="#b6b03e" transform="rotate(68 1795.7 344.0)"/>
<ellipse cx="1792.1" cy="335.3" rx="2.3" ry="1.7" fill="#dcd658" transform="rotate(136 1792.1 335.3)"/>
<ellipse cx="1785.1" cy="337.6" rx="2.7" ry="2.2" fill="#c0ba46" transform="rotate(29 1785.1 337.6)"/>
<ellipse cx="1826.0" cy="398.1" rx="2.8" ry="2.1" fill="#e4de72" transform="rotate(33 1826.0 398.1)"/>
<ellipse cx="1824.1" cy="407.9" rx="3.7" ry="3.0" fill="#e4de72" transform="rotate(97 1824.1 407.9)"/>
<ellipse cx="1862.3" cy="367.1" rx="3.1" ry="2.6" fill="#e4de72" transform="rotate(160 1862.3 367.1)"/>
<ellipse cx="1801.5" cy="365.7" rx="2.3" ry="1.5" fill="#dcd664" transform="rotate(58 1801.5 365.7)"/>
<ellipse cx="1812.9" cy="336.5" rx="2.4" ry="1.7" fill="#dcd658" transform="rotate(162 1812.9 336.5)"/>
<ellipse cx="1807.5" cy="323.7" rx="3.5" ry="2.4" fill="#d2cc58" transform="rotate(132 1807.5 323.7)"/>
<ellipse cx="1824.1" cy="379.1" rx="3.3" ry="2.5" fill="#e4de72" transform="rotate(173 1824.1 379.1)"/>
<ellipse cx="1828.3" cy="378.8" rx="2.3" ry="1.8" fill="#e4de72" transform="rotate(155 1828.3 378.8)"/>
<ellipse cx="1835.7" cy="367.0" rx="2.2" ry="1.7" fill="#e4de72" transform="rotate(21 1835.7 367.0)"/>
<ellipse cx="1799.6" cy="399.4" rx="3.0" ry="2.3" fill="#aca638" transform="rotate(1 1799.6 399.4)"/>
<ellipse cx="1815.2" cy="369.4" rx="3.2" ry="2.4" fill="#dcd664" transform="rotate(88 1815.2 369.4)"/>
<ellipse cx="1819.9" cy="326.3" rx="3.2" ry="1.9" fill="#e4de72" transform="rotate(160 1819.9 326.3)"/>
<ellipse cx="1841.1" cy="355.6" rx="3.4" ry="2.6" fill="#dcd658" transform="rotate(53 1841.1 355.6)"/>
<ellipse cx="1866.0" cy="370.1" rx="2.2" ry="1.8" fill="#d8d25e" transform="rotate(61 1866.0 370.1)"/>
<ellipse cx="1821.3" cy="327.3" rx="2.6" ry="2.0" fill="#d8d25e" transform="rotate(122 1821.3 327.3)"/>
<ellipse cx="1814.1" cy="394.8" rx="2.3" ry="1.5" fill="#c0ba46" transform="rotate(166 1814.1 394.8)"/>
<ellipse cx="1833.4" cy="357.8" rx="2.6" ry="2.0" fill="#eae482" transform="rotate(108 1833.4 357.8)"/>
<ellipse cx="1831.0" cy="384.4" rx="3.4" ry="2.6" fill="#dcd664" transform="rotate(19 1831.0 384.4)"/>
<ellipse cx="1810.8" cy="399.5" rx="2.6" ry="1.7" fill="#dcd664" transform="rotate(69 1810.8 399.5)"/>
<ellipse cx="1805.4" cy="362.5" rx="3.4" ry="2.2" fill="#cec854" transform="rotate(60 1805.4 362.5)"/>
<ellipse cx="1825.2" cy="354.8" rx="2.9" ry="2.5" fill="#d8d25e" transform="rotate(27 1825.2 354.8)"/>
<ellipse cx="1844.4" cy="382.2" rx="3.3" ry="2.0" fill="#cec854" transform="rotate(34 1844.4 382.2)"/>
<ellipse cx="1849.8" cy="379.5" rx="2.2" ry="1.6" fill="#b6b03e" transform="rotate(155 1849.8 379.5)"/>
<ellipse cx="1818.0" cy="326.4" rx="3.6" ry="2.4" fill="#c0ba46" transform="rotate(53 1818.0 326.4)"/>
<ellipse cx="1788.3" cy="355.5" rx="3.0" ry="2.2" fill="#eae482" transform="rotate(114 1788.3 355.5)"/>
<ellipse cx="1840.6" cy="398.8" rx="2.9" ry="2.1" fill="#d2cc58" transform="rotate(131 1840.6 398.8)"/>
<ellipse cx="1822.6" cy="346.8" rx="2.3" ry="1.7" fill="#eae482" transform="rotate(36 1822.6 346.8)"/>
<ellipse cx="1834.4" cy="333.3" rx="3.7" ry="2.2" fill="#dcd658" transform="rotate(51 1834.4 333.3)"/>
<ellipse cx="1788.3" cy="363.1" rx="3.1" ry="1.8" fill="#b6b03e" transform="rotate(65 1788.3 363.1)"/>
<ellipse cx="1817.4" cy="363.0" rx="2.6" ry="1.7" fill="#dcd664" transform="rotate(62 1817.4 363.0)"/>
<ellipse cx="1837.6" cy="338.0" rx="2.1" ry="1.2" fill="#b6b03e" transform="rotate(179 1837.6 338.0)"/>
<ellipse cx="1790.4" cy="336.3" rx="3.4" ry="2.3" fill="#d2cc58" transform="rotate(20 1790.4 336.3)"/>
<ellipse cx="1837.8" cy="339.8" rx="2.7" ry="1.9" fill="#cec854" transform="rotate(12 1837.8 339.8)"/>
<ellipse cx="1816.9" cy="363.4" rx="2.8" ry="2.1" fill="#c0ba46" transform="rotate(79 1816.9 363.4)"/>
<ellipse cx="1782.1" cy="352.0" rx="2.7" ry="1.9" fill="#b6b03e" transform="rotate(107 1782.1 352.0)"/>
<ellipse cx="1801.9" cy="325.2" rx="2.7" ry="2.1" fill="#dcd664" transform="rotate(96 1801.9 325.2)"/>
<ellipse cx="1832.1" cy="381.7" rx="2.3" ry="1.3" fill="#dcd664" transform="rotate(20 1832.1 381.7)"/>
<ellipse cx="1834.2" cy="391.1" rx="2.7" ry="1.8" fill="#d2cc58" transform="rotate(6 1834.2 391.1)"/>
<ellipse cx="1844.8" cy="368.7" rx="3.6" ry="3.0" fill="#cec854" transform="rotate(43 1844.8 368.7)"/>
<ellipse cx="1835.5" cy="385.7" rx="2.6" ry="1.5" fill="#e4de72" transform="rotate(9 1835.5 385.7)"/>
<ellipse cx="1827.4" cy="340.8" rx="3.7" ry="2.4" fill="#e4de72" transform="rotate(45 1827.4 340.8)"/>
<ellipse cx="1804.7" cy="391.5" rx="2.6" ry="1.5" fill="#c4be4a" transform="rotate(78 1804.7 391.5)"/>
<ellipse cx="1843.1" cy="330.4" rx="2.2" ry="1.3" fill="#d2cc58" transform="rotate(7 1843.1 330.4)"/>
<ellipse cx="1802.8" cy="361.8" rx="3.6" ry="2.8" fill="#c0ba46" transform="rotate(61 1802.8 361.8)"/>
<ellipse cx="1788.1" cy="340.3" rx="2.5" ry="1.9" fill="#c4be4a" transform="rotate(170 1788.1 340.3)"/>
<ellipse cx="1802.9" cy="336.8" rx="2.9" ry="2.1" fill="#cec854" transform="rotate(97 1802.9 336.8)"/>
<ellipse cx="1820.2" cy="334.4" rx="3.5" ry="2.5" fill="#aca638" transform="rotate(166 1820.2 334.4)"/>
<ellipse cx="1794.6" cy="395.9" rx="3.3" ry="2.1" fill="#eae482" transform="rotate(148 1794.6 395.9)"/>
<ellipse cx="1836.7" cy="384.7" rx="2.7" ry="1.9" fill="#d2cc58" transform="rotate(28 1836.7 384.7)"/>
<ellipse cx="1808.8" cy="398.1" rx="3.2" ry="2.1" fill="#dcd658" transform="rotate(108 1808.8 398.1)"/>
<ellipse cx="1816.4" cy="358.2" rx="2.8" ry="2.3" fill="#aca638" transform="rotate(116 1816.4 358.2)"/>
<ellipse cx="1832.1" cy="390.9" rx="3.6" ry="2.4" fill="#c0ba46" transform="rotate(56 1832.1 390.9)"/>
<ellipse cx="1812.3" cy="349.8" rx="2.1" ry="1.2" fill="#d8d25e" transform="rotate(116 1812.3 349.8)"/>
<ellipse cx="1804.5" cy="334.2" rx="2.4" ry="1.9" fill="#eae482" transform="rotate(93 1804.5 334.2)"/>
<ellipse cx="1812.1" cy="396.2" rx="3.0" ry="1.8" fill="#c4be4a" transform="rotate(32 1812.1 396.2)"/>
<ellipse cx="1831.0" cy="338.7" rx="3.5" ry="2.1" fill="#e4de72" transform="rotate(170 1831.0 338.7)"/>
<ellipse cx="1806.6" cy="366.4" rx="3.5" ry="2.6" fill="#dcd658" transform="rotate(116 1806.6 366.4)"/>
<ellipse cx="1780.1" cy="383.4" rx="2.8" ry="1.6" fill="#d8d25e" transform="rotate(150 1780.1 383.4)"/>
<ellipse cx="1813.7" cy="370.9" rx="2.0" ry="1.3" fill="#aca638" transform="rotate(116 1813.7 370.9)"/>
<ellipse cx="1813.1" cy="363.9" rx="3.0" ry="2.3" fill="#dcd658" transform="rotate(76 1813.1 363.9)"/>
<ellipse cx="1805.4" cy="361.0" rx="3.5" ry="2.0" fill="#c0ba46" transform="rotate(43 1805.4 361.0)"/>
<ellipse cx="1824.7" cy="376.3" rx="3.7" ry="2.8" fill="#d8d25e" transform="rotate(157 1824.7 376.3)"/>
<ellipse cx="1814.6" cy="333.0" rx="2.7" ry="1.6" fill="#cec854" transform="rotate(112 1814.6 333.0)"/>
<ellipse cx="1825.1" cy="341.9" rx="3.8" ry="3.1" fill="#d2cc58" transform="rotate(53 1825.1 341.9)"/>
<ellipse cx="1845.4" cy="379.1" rx="2.5" ry="1.8" fill="#d2cc58" transform="rotate(115 1845.4 379.1)"/>
<ellipse cx="1828.2" cy="385.6" rx="2.1" ry="1.4" fill="#e4de72" transform="rotate(35 1828.2 385.6)"/>
<ellipse cx="1792.1" cy="374.0" rx="2.8" ry="1.7" fill="#e4de72" transform="rotate(88 1792.1 374.0)"/>
<ellipse cx="1810.1" cy="329.1" rx="2.7" ry="1.6" fill="#c0ba46" transform="rotate(56 1810.1 329.1)"/>
<ellipse cx="1837.8" cy="362.9" rx="3.7" ry="2.4" fill="#aca638" transform="rotate(5 1837.8 362.9)"/>
<ellipse cx="1784.8" cy="352.7" rx="2.4" ry="1.9" fill="#dcd664" transform="rotate(2 1784.8 352.7)"/>
<ellipse cx="1862.4" cy="360.4" rx="3.7" ry="2.0" fill="#c0ba46" transform="rotate(177 1862.4 360.4)"/>
<ellipse cx="1841.7" cy="358.7" rx="3.0" ry="2.1" fill="#e4de72" transform="rotate(43 1841.7 358.7)"/>
<ellipse cx="1818.0" cy="369.4" rx="3.0" ry="1.7" fill="#b6b03e" transform="rotate(56 1818.0 369.4)"/>
<ellipse cx="1849.0" cy="373.3" rx="2.6" ry="1.5" fill="#dcd658" transform="rotate(7 1849.0 373.3)"/>
<ellipse cx="1823.8" cy="338.0" rx="3.7" ry="2.9" fill="#cec854" transform="rotate(151 1823.8 338.0)"/>
<ellipse cx="1834.1" cy="341.3" rx="2.5" ry="1.5" fill="#dcd658" transform="rotate(3 1834.1 341.3)"/>
<ellipse cx="1831.2" cy="342.3" rx="2.9" ry="2.3" fill="#d8d25e" transform="rotate(155 1831.2 342.3)"/>
<ellipse cx="1810.5" cy="328.5" rx="2.5" ry="1.4" fill="#eae482" transform="rotate(25 1810.5 328.5)"/>
<ellipse cx="1825.4" cy="341.0" rx="2.5" ry="1.6" fill="#eae482" transform="rotate(51 1825.4 341.0)"/>
<ellipse cx="1812.4" cy="385.2" rx="2.7" ry="2.2" fill="#d8d25e" transform="rotate(149 1812.4 385.2)"/>
<ellipse cx="1849.3" cy="332.0" rx="3.0" ry="2.1" fill="#e4de72" transform="rotate(50 1849.3 332.0)"/>
<ellipse cx="1812.0" cy="345.2" rx="2.9" ry="2.4" fill="#dcd658" transform="rotate(173 1812.0 345.2)"/>
<ellipse cx="1814.6" cy="381.2" rx="3.2" ry="2.6" fill="#d2cc58" transform="rotate(71 1814.6 381.2)"/>
<ellipse cx="1852.9" cy="352.9" rx="2.6" ry="1.7" fill="#dcd664" transform="rotate(51 1852.9 352.9)"/>
<ellipse cx="1794.9" cy="379.4" rx="2.9" ry="2.4" fill="#eae482" transform="rotate(133 1794.9 379.4)"/>
<ellipse cx="1814.1" cy="354.3" rx="3.5" ry="2.9" fill="#c4be4a" transform="rotate(170 1814.1 354.3)"/>
<ellipse cx="1844.6" cy="360.7" rx="2.5" ry="1.8" fill="#c0ba46" transform="rotate(31 1844.6 360.7)"/>
<ellipse cx="1806.5" cy="338.5" rx="2.3" ry="2.0" fill="#dcd658" transform="rotate(121 1806.5 338.5)"/>
<ellipse cx="1811.0" cy="371.9" rx="3.1" ry="2.0" fill="#dcd664" transform="rotate(117 1811.0 371.9)"/>
<ellipse cx="1791.3" cy="359.8" rx="3.0" ry="2.0" fill="#cec854" transform="rotate(19 1791.3 359.8)"/>
<ellipse cx="1832.7" cy="364.8" rx="2.2" ry="1.4" fill="#d8d25e" transform="rotate(69 1832.7 364.8)"/>
<ellipse cx="1833.6" cy="393.3" rx="3.8" ry="3.2" fill="#aca638" transform="rotate(44 1833.6 393.3)"/>
<ellipse cx="1818.6" cy="320.7" rx="3.5" ry="2.4" fill="#eae482" transform="rotate(133 1818.6 320.7)"/>
<ellipse cx="1821.1" cy="394.2" rx="2.8" ry="2.0" fill="#eae482" transform="rotate(80 1821.1 394.2)"/>
<ellipse cx="1800.3" cy="382.4" rx="2.5" ry="2.0" fill="#e4de72" transform="rotate(135 1800.3 382.4)"/>
<ellipse cx="1802.5" cy="326.7" rx="2.5" ry="1.5" fill="#d2cc58" transform="rotate(10 1802.5 326.7)"/>
<ellipse cx="1829.9" cy="354.9" rx="2.0" ry="1.6" fill="#d8d25e" transform="rotate(143 1829.9 354.9)"/>
<ellipse cx="1848.8" cy="371.8" rx="2.2" ry="1.5" fill="#dcd664" transform="rotate(79 1848.8 371.8)"/>
<ellipse cx="1842.6" cy="337.6" rx="3.0" ry="2.2" fill="#d8d25e" transform="rotate(106 1842.6 337.6)"/>
<ellipse cx="1818.5" cy="395.8" rx="3.2" ry="2.1" fill="#e4de72" transform="rotate(176 1818.5 395.8)"/>
<ellipse cx="1838.9" cy="379.5" rx="3.3" ry="2.2" fill="#e4de72" transform="rotate(116 1838.9 379.5)"/>
<ellipse cx="1820.7" cy="375.0" rx="2.6" ry="2.0" fill="#d8d25e" transform="rotate(32 1820.7 375.0)"/>
<ellipse cx="1808.6" cy="325.5" rx="2.1" ry="1.4" fill="#e4de72" transform="rotate(153 1808.6 325.5)"/>
<ellipse cx="1834.6" cy="346.6" rx="3.8" ry="2.5" fill="#eae482" transform="rotate(39 1834.6 346.6)"/>
<ellipse cx="1843.1" cy="382.3" rx="2.7" ry="1.9" fill="#aca638" transform="rotate(2 1843.1 382.3)"/>
<ellipse cx="1805.6" cy="375.1" rx="3.2" ry="2.6" fill="#dcd664" transform="rotate(105 1805.6 375.1)"/>
<ellipse cx="1830.5" cy="363.0" rx="2.0" ry="1.6" fill="#cec854" transform="rotate(38 1830.5 363.0)"/>
<ellipse cx="1846.1" cy="367.5" rx="3.7" ry="2.6" fill="#b6b03e" transform="rotate(133 1846.1 367.5)"/>
<ellipse cx="1817.2" cy="352.4" rx="3.6" ry="2.4" fill="#e4de72" transform="rotate(86 1817.2 352.4)"/>
<ellipse cx="1833.2" cy="391.2" rx="3.1" ry="1.8" fill="#aca638" transform="rotate(5 1833.2 391.2)"/>
<ellipse cx="1788.9" cy="365.0" rx="2.9" ry="1.7" fill="#dcd658" transform="rotate(37 1788.9 365.0)"/>
<ellipse cx="1803.2" cy="343.4" rx="2.8" ry="1.6" fill="#c4be4a" transform="rotate(176 1803.2 343.4)"/>
<ellipse cx="1842.7" cy="342.9" rx="2.6" ry="2.1" fill="#cec854" transform="rotate(58 1842.7 342.9)"/>
<ellipse cx="1866.8" cy="362.9" rx="3.2" ry="2.6" fill="#aca638" transform="rotate(41 1866.8 362.9)"/>
<ellipse cx="1814.3" cy="369.2" rx="3.2" ry="1.8" fill="#eae482" transform="rotate(168 1814.3 369.2)"/>
<ellipse cx="1828.8" cy="350.5" rx="3.5" ry="2.8" fill="#cec854" transform="rotate(165 1828.8 350.5)"/>
<ellipse cx="1849.0" cy="359.9" rx="3.0" ry="1.8" fill="#d8d25e" transform="rotate(54 1849.0 359.9)"/>
<ellipse cx="1796.2" cy="357.8" rx="2.6" ry="2.1" fill="#eae482" transform="rotate(164 1796.2 357.8)"/>
<ellipse cx="1842.5" cy="371.1" rx="2.6" ry="1.6" fill="#b6b03e" transform="rotate(157 1842.5 371.1)"/>
<ellipse cx="1840.0" cy="376.7" rx="3.7" ry="2.6" fill="#aca638" transform="rotate(152 1840.0 376.7)"/>
<ellipse cx="1845.0" cy="368.5" rx="2.7" ry="2.2" fill="#d2cc58" transform="rotate(150 1845.0 368.5)"/>
<ellipse cx="1811.4" cy="374.7" rx="2.5" ry="1.6" fill="#aca638" transform="rotate(10 1811.4 374.7)"/>
<ellipse cx="1821.0" cy="407.5" rx="2.3" ry="1.4" fill="#b6b03e" transform="rotate(87 1821.0 407.5)"/>
<ellipse cx="1809.5" cy="340.1" rx="2.3" ry="1.8" fill="#eae482" transform="rotate(71 1809.5 340.1)"/>
<ellipse cx="1830.1" cy="379.5" rx="2.7" ry="1.5" fill="#c0ba46" transform="rotate(97 1830.1 379.5)"/>
<ellipse cx="1806.8" cy="354.7" rx="3.6" ry="2.7" fill="#eae482" transform="rotate(40 1806.8 354.7)"/>
<ellipse cx="1794.0" cy="339.3" rx="2.9" ry="1.7" fill="#aca638" transform="rotate(129 1794.0 339.3)"/>
<ellipse cx="1787.1" cy="381.7" rx="2.6" ry="1.6" fill="#dcd658" transform="rotate(54 1787.1 381.7)"/>
<ellipse cx="1820.4" cy="317.6" rx="2.9" ry="2.1" fill="#b6b03e" transform="rotate(148 1820.4 317.6)"/>
<ellipse cx="1859.6" cy="352.4" rx="3.1" ry="2.2" fill="#e4de72" transform="rotate(122 1859.6 352.4)"/>
<ellipse cx="1825.1" cy="322.0" rx="3.3" ry="2.1" fill="#dcd658" transform="rotate(2 1825.1 322.0)"/>
<ellipse cx="1816.6" cy="316.2" rx="2.7" ry="1.6" fill="#b6b03e" transform="rotate(53 1816.6 316.2)"/>
<ellipse cx="1838.5" cy="332.8" rx="3.0" ry="1.9" fill="#dcd664" transform="rotate(130 1838.5 332.8)"/>
<ellipse cx="1806.7" cy="324.8" rx="3.0" ry="2.0" fill="#d8d25e" transform="rotate(130 1806.7 324.8)"/>
<ellipse cx="1829.1" cy="385.7" rx="2.3" ry="1.3" fill="#cec854" transform="rotate(97 1829.1 385.7)"/>
<ellipse cx="1778.5" cy="377.3" rx="2.1" ry="1.3" fill="#e4de72" transform="rotate(57 1778.5 377.3)"/>
<ellipse cx="1843.9" cy="355.6" rx="2.8" ry="1.7" fill="#dcd664" transform="rotate(173 1843.9 355.6)"/>
<ellipse cx="1828.1" cy="331.0" rx="3.2" ry="2.0" fill="#aca638" transform="rotate(47 1828.1 331.0)"/>
<ellipse cx="1822.2" cy="400.0" rx="3.3" ry="2.5" fill="#c0ba46" transform="rotate(41 1822.2 400.0)"/>
<ellipse cx="1844.9" cy="383.1" rx="2.3" ry="1.3" fill="#eae482" transform="rotate(88 1844.9 383.1)"/>
<ellipse cx="1840.0" cy="349.9" rx="2.8" ry="2.0" fill="#cec854" transform="rotate(103 1840.0 349.9)"/>
<ellipse cx="1797.4" cy="356.0" rx="2.7" ry="1.5" fill="#dcd658" transform="rotate(31 1797.4 356.0)"/>
<ellipse cx="1825.1" cy="351.3" rx="3.3" ry="2.0" fill="#dcd658" transform="rotate(126 1825.1 351.3)"/>
<ellipse cx="1846.0" cy="369.7" rx="3.3" ry="2.8" fill="#dcd664" transform="rotate(36 1846.0 369.7)"/>
<ellipse cx="1830.7" cy="360.5" rx="2.8" ry="1.8" fill="#aca638" transform="rotate(21 1830.7 360.5)"/>
<ellipse cx="1854.3" cy="370.8" rx="2.2" ry="1.7" fill="#dcd664" transform="rotate(159 1854.3 370.8)"/>
<ellipse cx="1813.5" cy="337.9" rx="2.9" ry="2.2" fill="#dcd658" transform="rotate(100 1813.5 337.9)"/>
<ellipse cx="1840.4" cy="339.4" rx="2.0" ry="1.3" fill="#dcd664" transform="rotate(126 1840.4 339.4)"/>
<ellipse cx="1807.2" cy="387.4" rx="3.5" ry="2.3" fill="#b6b03e" transform="rotate(8 1807.2 387.4)"/>
<ellipse cx="1829.6" cy="342.0" rx="3.2" ry="2.1" fill="#c0ba46" transform="rotate(40 1829.6 342.0)"/>
<ellipse cx="1837.5" cy="363.6" rx="2.3" ry="1.5" fill="#d8d25e" transform="rotate(71 1837.5 363.6)"/>
<ellipse cx="1813.7" cy="348.7" rx="2.2" ry="1.5" fill="#b6b03e" transform="rotate(106 1813.7 348.7)"/>
<ellipse cx="1806.4" cy="355.8" rx="3.4" ry="2.5" fill="#b6b03e" transform="rotate(119 1806.4 355.8)"/>
<ellipse cx="1811.0" cy="325.2" rx="2.1" ry="1.7" fill="#c4be4a" transform="rotate(90 1811.0 325.2)"/>
<ellipse cx="1852.1" cy="350.9" rx="2.3" ry="1.6" fill="#eae482" transform="rotate(56 1852.1 350.9)"/>
<ellipse cx="1799.7" cy="387.9" rx="2.2" ry="1.6" fill="#b6b03e" transform="rotate(86 1799.7 387.9)"/>
<ellipse cx="1819.7" cy="400.4" rx="2.0" ry="1.5" fill="#eae482" transform="rotate(10 1819.7 400.4)"/>
<ellipse cx="1785.6" cy="376.7" rx="3.2" ry="2.1" fill="#e4de72" transform="rotate(85 1785.6 376.7)"/>
<ellipse cx="1821.4" cy="396.4" rx="3.0" ry="2.0" fill="#c4be4a" transform="rotate(117 1821.4 396.4)"/>
<ellipse cx="1801.2" cy="333.3" rx="3.3" ry="2.4" fill="#eae482" transform="rotate(138 1801.2 333.3)"/>
<ellipse cx="1838.8" cy="391.2" rx="2.5" ry="2.0" fill="#c0ba46" transform="rotate(92 1838.8 391.2)"/>
<ellipse cx="1807.6" cy="334.2" rx="2.8" ry="2.1" fill="#cec854" transform="rotate(101 1807.6 334.2)"/>
<ellipse cx="1804.1" cy="390.0" rx="2.6" ry="1.8" fill="#c0ba46" transform="rotate(114 1804.1 390.0)"/>
<ellipse cx="1820.4" cy="405.0" rx="2.5" ry="1.7" fill="#b6b03e" transform="rotate(76 1820.4 405.0)"/>
<ellipse cx="1836.8" cy="385.1" rx="3.8" ry="2.1" fill="#cec854" transform="rotate(72 1836.8 385.1)"/>
<ellipse cx="1833.5" cy="371.2" rx="2.9" ry="1.8" fill="#d8d25e" transform="rotate(159 1833.5 371.2)"/>
<ellipse cx="1834.2" cy="337.2" rx="2.7" ry="2.1" fill="#cec854" transform="rotate(71 1834.2 337.2)"/>
<ellipse cx="1825.0" cy="378.7" rx="2.4" ry="1.7" fill="#c4be4a" transform="rotate(116 1825.0 378.7)"/>
<ellipse cx="1835.1" cy="334.8" rx="2.9" ry="2.1" fill="#c0ba46" transform="rotate(110 1835.1 334.8)"/>
<ellipse cx="1804.8" cy="340.5" rx="3.6" ry="2.2" fill="#c4be4a" transform="rotate(160 1804.8 340.5)"/>
<ellipse cx="1806.3" cy="337.7" rx="3.6" ry="2.1" fill="#e4de72" transform="rotate(107 1806.3 337.7)"/>
<ellipse cx="1820.5" cy="327.4" rx="3.8" ry="2.3" fill="#dcd658" transform="rotate(124 1820.5 327.4)"/>
<ellipse cx="1813.1" cy="383.4" rx="3.7" ry="2.3" fill="#aca638" transform="rotate(3 1813.1 383.4)"/>
<ellipse cx="1797.2" cy="384.8" rx="2.5" ry="1.4" fill="#b6b03e" transform="rotate(160 1797.2 384.8)"/>
<ellipse cx="1787.5" cy="374.1" rx="3.3" ry="1.9" fill="#b6b03e" transform="rotate(101 1787.5 374.1)"/>
<ellipse cx="1803.7" cy="402.1" rx="2.0" ry="1.5" fill="#b6b03e" transform="rotate(147 1803.7 402.1)"/>
<ellipse cx="1786.7" cy="332.6" rx="2.1" ry="1.3" fill="#dcd664" transform="rotate(37 1786.7 332.6)"/>
<ellipse cx="1825.1" cy="377.6" rx="3.1" ry="2.5" fill="#e4de72" transform="rotate(82 1825.1 377.6)"/>
<ellipse cx="1836.2" cy="353.3" rx="2.5" ry="2.1" fill="#b6b03e" transform="rotate(36 1836.2 353.3)"/>
<ellipse cx="1816.4" cy="353.6" rx="3.6" ry="2.4" fill="#dcd658" transform="rotate(62 1816.4 353.6)"/>
<ellipse cx="1820.2" cy="410.9" rx="3.1" ry="1.8" fill="#aca638" transform="rotate(31 1820.2 410.9)"/>
<ellipse cx="1831.3" cy="379.8" rx="2.2" ry="1.4" fill="#cec854" transform="rotate(98 1831.3 379.8)"/>
<ellipse cx="1781.9" cy="356.8" rx="2.8" ry="2.1" fill="#dcd664" transform="rotate(180 1781.9 356.8)"/>
<ellipse cx="1832.0" cy="372.5" rx="3.5" ry="2.4" fill="#eae482" transform="rotate(69 1832.0 372.5)"/>
<ellipse cx="1799.7" cy="368.6" rx="3.3" ry="2.5" fill="#aca638" transform="rotate(168 1799.7 368.6)"/>
<ellipse cx="1799.5" cy="363.6" rx="2.9" ry="2.2" fill="#eae482" transform="rotate(34 1799.5 363.6)"/>
<ellipse cx="1831.3" cy="352.6" rx="3.4" ry="2.2" fill="#eae482" transform="rotate(14 1831.3 352.6)"/>
<ellipse cx="1825.5" cy="382.0" rx="2.0" ry="1.5" fill="#dcd664" transform="rotate(177 1825.5 382.0)"/>
<ellipse cx="1822.7" cy="340.5" rx="3.3" ry="2.6" fill="#dcd658" transform="rotate(180 1822.7 340.5)"/>
<ellipse cx="1805.4" cy="339.5" rx="2.2" ry="1.7" fill="#b6b03e" transform="rotate(120 1805.4 339.5)"/>
<ellipse cx="1799.6" cy="401.8" rx="2.1" ry="1.3" fill="#d2cc58" transform="rotate(129 1799.6 401.8)"/>
<ellipse cx="1843.8" cy="344.8" rx="2.6" ry="1.8" fill="#e4de72" transform="rotate(176 1843.8 344.8)"/>
<ellipse cx="1819.1" cy="400.7" rx="2.3" ry="1.7" fill="#b6b03e" transform="rotate(175 1819.1 400.7)"/>
<ellipse cx="1811.5" cy="405.4" rx="2.6" ry="1.9" fill="#c0ba46" transform="rotate(74 1811.5 405.4)"/>
<ellipse cx="1818.0" cy="333.4" rx="3.5" ry="2.3" fill="#dcd664" transform="rotate(42 1818.0 333.4)"/>
<ellipse cx="1811.5" cy="330.5" rx="2.4" ry="2.0" fill="#e4de72" transform="rotate(96 1811.5 330.5)"/>
<ellipse cx="1825.0" cy="333.7" rx="2.5" ry="1.4" fill="#e4de72" transform="rotate(167 1825.0 333.7)"/>
<ellipse cx="1832.4" cy="336.4" rx="2.8" ry="1.7" fill="#aca638" transform="rotate(18 1832.4 336.4)"/>
<ellipse cx="1819.8" cy="340.9" rx="2.1" ry="1.6" fill="#d8d25e" transform="rotate(95 1819.8 340.9)"/>
<ellipse cx="1840.8" cy="347.3" rx="3.3" ry="2.6" fill="#e4de72" transform="rotate(134 1840.8 347.3)"/>
<ellipse cx="1811.1" cy="334.9" rx="3.4" ry="2.3" fill="#e4de72" transform="rotate(30 1811.1 334.9)"/>
<ellipse cx="1852.6" cy="387.5" rx="2.5" ry="2.1" fill="#dcd658" transform="rotate(169 1852.6 387.5)"/>
<ellipse cx="1792.3" cy="332.7" rx="2.5" ry="1.9" fill="#dcd658" transform="rotate(146 1792.3 332.7)"/>
<ellipse cx="1813.6" cy="379.4" rx="3.1" ry="2.5" fill="#e4de72" transform="rotate(115 1813.6 379.4)"/>
<ellipse cx="1797.7" cy="369.3" rx="2.6" ry="2.2" fill="#b6b03e" transform="rotate(86 1797.7 369.3)"/>
<ellipse cx="1802.9" cy="356.4" rx="3.0" ry="1.9" fill="#d2cc58" transform="rotate(1 1802.9 356.4)"/>
<ellipse cx="1815.6" cy="375.2" rx="2.7" ry="2.1" fill="#eae482" transform="rotate(86 1815.6 375.2)"/>
<ellipse cx="1867.8" cy="362.0" rx="2.4" ry="2.0" fill="#e4de72" transform="rotate(26 1867.8 362.0)"/>
<ellipse cx="1810.8" cy="329.9" rx="2.6" ry="1.7" fill="#dcd658" transform="rotate(82 1810.8 329.9)"/>
<ellipse cx="1852.4" cy="393.3" rx="3.5" ry="2.9" fill="#d8d25e" transform="rotate(126 1852.4 393.3)"/>
<ellipse cx="1840.9" cy="352.4" rx="2.7" ry="1.5" fill="#c4be4a" transform="rotate(173 1840.9 352.4)"/>
<ellipse cx="1848.7" cy="370.6" rx="2.8" ry="1.7" fill="#cec854" transform="rotate(14 1848.7 370.6)"/>
<ellipse cx="1820.0" cy="383.2" rx="2.8" ry="2.1" fill="#d2cc58" transform="rotate(158 1820.0 383.2)"/>
<ellipse cx="1784.7" cy="335.7" rx="2.9" ry="2.3" fill="#aca638" transform="rotate(147 1784.7 335.7)"/>
<ellipse cx="1842.5" cy="393.8" rx="2.7" ry="2.0" fill="#dcd664" transform="rotate(44 1842.5 393.8)"/>
<ellipse cx="1830.6" cy="386.8" rx="2.9" ry="2.4" fill="#d8d25e" transform="rotate(159 1830.6 386.8)"/>
<ellipse cx="1791.8" cy="396.8" rx="3.4" ry="2.3" fill="#cec854" transform="rotate(46 1791.8 396.8)"/>
<ellipse cx="1815.8" cy="404.9" rx="3.2" ry="1.9" fill="#d8d25e" transform="rotate(136 1815.8 404.9)"/>
<ellipse cx="1826.5" cy="346.6" rx="3.5" ry="2.7" fill="#dcd658" transform="rotate(116 1826.5 346.6)"/>
<ellipse cx="1833.2" cy="333.8" rx="2.9" ry="1.9" fill="#d8d25e" transform="rotate(176 1833.2 333.8)"/>
<ellipse cx="1818.7" cy="406.4" rx="3.3" ry="2.6" fill="#b6b03e" transform="rotate(117 1818.7 406.4)"/>
<ellipse cx="1858.5" cy="377.9" rx="3.6" ry="2.2" fill="#c4be4a" transform="rotate(44 1858.5 377.9)"/>
<ellipse cx="1806.4" cy="335.7" rx="3.7" ry="2.8" fill="#d2cc58" transform="rotate(104 1806.4 335.7)"/>
<ellipse cx="1803.9" cy="323.3" rx="3.7" ry="2.4" fill="#eae482" transform="rotate(64 1803.9 323.3)"/>
<ellipse cx="1833.8" cy="355.7" rx="3.8" ry="3.0" fill="#e4de72" transform="rotate(121 1833.8 355.7)"/>
<ellipse cx="1820.9" cy="330.6" rx="3.4" ry="2.6" fill="#aca638" transform="rotate(15 1820.9 330.6)"/>
<ellipse cx="1800.6" cy="353.7" rx="2.1" ry="1.4" fill="#d8d25e" transform="rotate(160 1800.6 353.7)"/>
<ellipse cx="1806.4" cy="372.7" rx="3.1" ry="2.3" fill="#c0ba46" transform="rotate(154 1806.4 372.7)"/>
<ellipse cx="1805.0" cy="332.8" rx="3.4" ry="2.0" fill="#b6b03e" transform="rotate(98 1805.0 332.8)"/>
<ellipse cx="1835.8" cy="338.1" rx="3.5" ry="2.5" fill="#aca638" transform="rotate(113 1835.8 338.1)"/>
<ellipse cx="1786.3" cy="378.5" rx="3.0" ry="1.8" fill="#dcd658" transform="rotate(112 1786.3 378.5)"/>
<ellipse cx="1802.7" cy="397.4" rx="3.4" ry="2.0" fill="#c0ba46" transform="rotate(176 1802.7 397.4)"/>
<ellipse cx="1837.1" cy="374.6" rx="2.7" ry="2.2" fill="#c4be4a" transform="rotate(140 1837.1 374.6)"/>
<ellipse cx="1814.7" cy="339.0" rx="2.5" ry="2.0" fill="#c0ba46" transform="rotate(35 1814.7 339.0)"/>
<ellipse cx="1818.6" cy="354.6" rx="2.9" ry="2.1" fill="#b6b03e" transform="rotate(26 1818.6 354.6)"/>
<ellipse cx="1855.9" cy="382.5" rx="2.1" ry="1.7" fill="#dcd658" transform="rotate(112 1855.9 382.5)"/>
<ellipse cx="1834.6" cy="368.8" rx="3.1" ry="1.7" fill="#b6b03e" transform="rotate(20 1834.6 368.8)"/>
<ellipse cx="1788.1" cy="350.9" rx="3.0" ry="2.4" fill="#eae482" transform="rotate(126 1788.1 350.9)"/>
<ellipse cx="1824.7" cy="399.7" rx="2.8" ry="2.0" fill="#cec854" transform="rotate(43 1824.7 399.7)"/>
<ellipse cx="1791.8" cy="326.1" rx="3.6" ry="2.2" fill="#eae482" transform="rotate(160 1791.8 326.1)"/>
<ellipse cx="1843.1" cy="384.2" rx="3.6" ry="2.8" fill="#d8d25e" transform="rotate(73 1843.1 384.2)"/>
<ellipse cx="1834.2" cy="341.6" rx="3.6" ry="2.1" fill="#c0ba46" transform="rotate(14 1834.2 341.6)"/>
<ellipse cx="1838.0" cy="359.9" rx="3.5" ry="2.8" fill="#c0ba46" transform="rotate(172 1838.0 359.9)"/>
<ellipse cx="1784.0" cy="341.5" rx="3.6" ry="2.9" fill="#d8d25e" transform="rotate(65 1784.0 341.5)"/>
<ellipse cx="1839.5" cy="356.2" rx="2.1" ry="1.3" fill="#e4de72" transform="rotate(5 1839.5 356.2)"/>
<ellipse cx="1838.4" cy="385.2" rx="2.0" ry="1.7" fill="#cec854" transform="rotate(76 1838.4 385.2)"/>
<ellipse cx="1805.0" cy="388.6" rx="2.6" ry="2.0" fill="#d8d25e" transform="rotate(12 1805.0 388.6)"/>
</g>
<g filter="url(#b15)">
<circle cx="1887" cy="408" r="22" fill="#a9a83c"/>
<circle cx="1872" cy="398" r="9" fill="#a9a83c"/>
<circle cx="1900" cy="394" r="9" fill="#a9a83c"/>
<circle cx="1905" cy="415" r="9" fill="#a9a83c"/>
<circle cx="1893" cy="428" r="9" fill="#a9a83c"/>
<circle cx="1874" cy="424" r="9" fill="#a9a83c"/>
<circle cx="1867" cy="410" r="7" fill="#a9a83c"/>
</g>
<g filter="url(#b1)">
<ellipse cx="1896.7" cy="415.4" rx="2.4" ry="1.4" fill="#b8b444" transform="rotate(72 1896.7 415.4)"/>
<ellipse cx="1893.4" cy="424.3" rx="3.0" ry="1.9" fill="#b0ad40" transform="rotate(31 1893.4 424.3)"/>
<ellipse cx="1889.9" cy="406.9" rx="3.1" ry="1.9" fill="#aeab3c" transform="rotate(49 1889.9 406.9)"/>
<ellipse cx="1875.4" cy="396.1" rx="3.4" ry="2.8" fill="#b8b444" transform="rotate(16 1875.4 396.1)"/>
<ellipse cx="1896.7" cy="393.9" rx="2.9" ry="1.7" fill="#b8b444" transform="rotate(168 1896.7 393.9)"/>
<ellipse cx="1882.8" cy="423.7" rx="2.6" ry="2.1" fill="#a2a238" transform="rotate(35 1882.8 423.7)"/>
<ellipse cx="1869.1" cy="399.3" rx="2.6" ry="2.1" fill="#b0ad40" transform="rotate(8 1869.1 399.3)"/>
<ellipse cx="1900.9" cy="407.8" rx="3.1" ry="2.4" fill="#aeab3c" transform="rotate(26 1900.9 407.8)"/>
<ellipse cx="1900.2" cy="400.0" rx="2.8" ry="1.7" fill="#b8b444" transform="rotate(78 1900.2 400.0)"/>
<ellipse cx="1901.4" cy="398.3" rx="3.4" ry="2.6" fill="#aeab3c" transform="rotate(50 1901.4 398.3)"/>
<ellipse cx="1896.6" cy="403.8" rx="2.2" ry="1.5" fill="#b8b444" transform="rotate(15 1896.6 403.8)"/>
<ellipse cx="1906.0" cy="414.7" rx="2.6" ry="2.2" fill="#a2a238" transform="rotate(140 1906.0 414.7)"/>
<ellipse cx="1897.5" cy="423.2" rx="2.3" ry="1.7" fill="#b8b444" transform="rotate(161 1897.5 423.2)"/>
<ellipse cx="1873.0" cy="420.9" rx="2.7" ry="1.5" fill="#aeab3c" transform="rotate(8 1873.0 420.9)"/>
<ellipse cx="1893.5" cy="389.8" rx="3.0" ry="2.0" fill="#aeab3c" transform="rotate(37 1893.5 389.8)"/>
<ellipse cx="1902.4" cy="414.3" rx="3.0" ry="2.6" fill="#a2a238" transform="rotate(109 1902.4 414.3)"/>
<ellipse cx="1871.4" cy="399.3" rx="3.4" ry="2.1" fill="#aeab3c" transform="rotate(179 1871.4 399.3)"/>
<ellipse cx="1887.6" cy="420.4" rx="2.3" ry="1.5" fill="#a2a238" transform="rotate(45 1887.6 420.4)"/>
<ellipse cx="1891.6" cy="428.0" rx="2.6" ry="1.6" fill="#aeab3c" transform="rotate(37 1891.6 428.0)"/>
<ellipse cx="1886.2" cy="419.0" rx="3.4" ry="2.2" fill="#a2a238" transform="rotate(21 1886.2 419.0)"/>
<ellipse cx="1863.7" cy="405.3" rx="3.2" ry="1.8" fill="#a2a238" transform="rotate(70 1863.7 405.3)"/>
<ellipse cx="1899.9" cy="394.9" rx="3.5" ry="2.3" fill="#b8b444" transform="rotate(118 1899.9 394.9)"/>
<ellipse cx="1886.7" cy="426.9" rx="3.2" ry="2.0" fill="#a2a238" transform="rotate(166 1886.7 426.9)"/>
<ellipse cx="1905.7" cy="404.6" rx="3.1" ry="1.8" fill="#aeab3c" transform="rotate(162 1905.7 404.6)"/>
<ellipse cx="1904.1" cy="422.3" rx="3.4" ry="2.6" fill="#a2a238" transform="rotate(84 1904.1 422.3)"/>
<ellipse cx="1908.3" cy="413.4" rx="2.2" ry="1.8" fill="#b8b444" transform="rotate(2 1908.3 413.4)"/>
<ellipse cx="1893.3" cy="392.1" rx="3.4" ry="2.5" fill="#aeab3c" transform="rotate(158 1893.3 392.1)"/>
<ellipse cx="1873.4" cy="397.0" rx="3.0" ry="2.3" fill="#a2a238" transform="rotate(165 1873.4 397.0)"/>
<ellipse cx="1901.6" cy="411.2" rx="2.9" ry="2.3" fill="#aeab3c" transform="rotate(109 1901.6 411.2)"/>
<ellipse cx="1902.9" cy="416.7" rx="3.5" ry="2.2" fill="#b0ad40" transform="rotate(62 1902.9 416.7)"/>
<ellipse cx="1875.5" cy="404.8" rx="3.3" ry="2.1" fill="#a2a238" transform="rotate(42 1875.5 404.8)"/>
<ellipse cx="1891.2" cy="429.3" rx="3.5" ry="2.7" fill="#a2a238" transform="rotate(66 1891.2 429.3)"/>
<ellipse cx="1883.9" cy="395.5" rx="3.1" ry="2.6" fill="#a2a238" transform="rotate(115 1883.9 395.5)"/>
<ellipse cx="1889.4" cy="400.4" rx="3.4" ry="2.1" fill="#a2a238" transform="rotate(27 1889.4 400.4)"/>
<ellipse cx="1892.6" cy="435.8" rx="2.2" ry="1.3" fill="#b0ad40" transform="rotate(117 1892.6 435.8)"/>
<ellipse cx="1865.3" cy="398.6" rx="2.9" ry="1.6" fill="#b8b444" transform="rotate(44 1865.3 398.6)"/>
<ellipse cx="1889.0" cy="388.9" rx="3.1" ry="2.3" fill="#b8b444" transform="rotate(110 1889.0 388.9)"/>
<ellipse cx="1877.9" cy="394.2" rx="3.0" ry="2.5" fill="#a2a238" transform="rotate(91 1877.9 394.2)"/>
<ellipse cx="1897.2" cy="395.1" rx="3.3" ry="2.2" fill="#aeab3c" transform="rotate(119 1897.2 395.1)"/>
<ellipse cx="1874.5" cy="398.2" rx="3.1" ry="2.0" fill="#aeab3c" transform="rotate(169 1874.5 398.2)"/>
<ellipse cx="1868.3" cy="403.0" rx="2.3" ry="1.6" fill="#aeab3c" transform="rotate(169 1868.3 403.0)"/>
<ellipse cx="1881.4" cy="413.8" rx="3.4" ry="2.5" fill="#b0ad40" transform="rotate(94 1881.4 413.8)"/>
<ellipse cx="1895.7" cy="420.8" rx="2.4" ry="1.8" fill="#b0ad40" transform="rotate(89 1895.7 420.8)"/>
<ellipse cx="1907.7" cy="414.5" rx="3.1" ry="2.3" fill="#b8b444" transform="rotate(134 1907.7 414.5)"/>
<ellipse cx="1890.2" cy="421.1" rx="2.5" ry="1.8" fill="#b8b444" transform="rotate(40 1890.2 421.1)"/>
</g>
<g filter="url(#b1)"><ellipse cx="1901.3" cy="421" rx="3.5" ry="5" fill="#d0c850" transform="rotate(20 1901.3 421)"/><circle cx="1881.1" cy="383.3" r="5.5" fill="#b8b03a"/></g>
<g filter="url(#b2)" opacity="0.85"><circle cx="1929.8" cy="215.3" r="8" fill="#bdb64e"/><circle cx="1928.8" cy="216" r="4.2" fill="#aaa43c"/></g>
<g filter="url(#b2)">
<circle cx="1750.1" cy="255.2" r="6.7" fill="#bfb53a"/>
<circle cx="1753.3" cy="255.4" r="2.0" fill="#d2cb62"/>
<circle cx="1769.7" cy="247" r="6.7" fill="#bfb53a"/>
<circle cx="1772.9" cy="247.2" r="2.0" fill="#d2cb62"/>
<circle cx="1821.3" cy="301.7" r="6.3" fill="#bfb53a"/>
<circle cx="1824.4" cy="301.9" r="1.9" fill="#d2cb62"/>
<circle cx="1887.5" cy="320.3" r="5.4" fill="#bfb53a"/>
<circle cx="1890.1" cy="320.5" r="1.6" fill="#d2cb62"/>
<circle cx="1732.3" cy="371.6" r="6.7" fill="#bfb53a"/>
<circle cx="1735.5" cy="371.8" r="2.0" fill="#d2cb62"/>
<circle cx="1767.1" cy="372.4" r="6.7" fill="#bfb53a"/>
<circle cx="1770.3" cy="372.6" r="2.0" fill="#d2cb62"/>
<circle cx="1777.8" cy="328.5" r="6.3" fill="#bfb53a"/>
<circle cx="1780.9" cy="328.7" r="1.9" fill="#d2cb62"/>
<circle cx="1907.7" cy="330.4" r="5.4" fill="#bfb53a"/>
<circle cx="1910.3" cy="330.6" r="1.6" fill="#d2cb62"/>
<circle cx="1921.5" cy="334.5" r="5.4" fill="#bfb53a"/>
<circle cx="1924.1" cy="334.7" r="1.6" fill="#d2cb62"/>
<circle cx="1923.4" cy="350.3" r="5.0" fill="#bfb53a"/>
<circle cx="1925.8" cy="350.5" r="1.5" fill="#d2cb62"/>
<circle cx="1911.3" cy="361.7" r="4.8" fill="#bfb53a"/>
<circle cx="1913.6" cy="361.9" r="1.5" fill="#d2cb62"/>
<circle cx="1897.7" cy="355.8" r="4.8" fill="#bfb53a"/>
<circle cx="1900.0" cy="356.0" r="1.5" fill="#d2cb62"/>
<circle cx="1889.4" cy="362.2" r="4.8" fill="#bfb53a"/>
<circle cx="1891.7" cy="362.4" r="1.5" fill="#d2cb62"/>
<circle cx="1855" cy="407.3" r="5.4" fill="#bfb53a"/>
<circle cx="1857.6" cy="407.5" r="1.6" fill="#d2cb62"/>
<circle cx="1849" cy="422.3" r="5.4" fill="#bfb53a"/>
<circle cx="1851.6" cy="422.5" r="1.6" fill="#d2cb62"/>
<circle cx="1852.6" cy="437.3" r="5.8" fill="#bfb53a"/>
<circle cx="1855.4" cy="437.5" r="1.7" fill="#d2cb62"/>
<circle cx="1878.7" cy="446.8" r="7.4" fill="#bfb53a"/>
<circle cx="1882.3" cy="447.0" r="2.2" fill="#d2cb62"/>
<circle cx="1917.9" cy="432.5" r="6.3" fill="#bfb53a"/>
<circle cx="1921.0" cy="432.7" r="1.9" fill="#d2cb62"/>
<circle cx="1926.2" cy="408" r="7.1" fill="#bfb53a"/>
<circle cx="1929.6" cy="408.2" r="2.1" fill="#d2cb62"/>
</g>
<path d="M1655.4 87.0 H1976.9 V564.6 H1655.4" stroke="#5f6a38" stroke-opacity="0.5" stroke-width="1.2" fill="none"/>
<circle cx="1915.6" cy="188" r="0.8" fill="#5a5c34"/>
<path d="M1704.5 206.9 L1684.5 239.5 L1734.6 246.2Z" fill="#2879c6"/>
<path d="M1876.3 175.7 L1914.3 172.8 L1897.8 221Z" fill="#f0813a"/>
</g>
<path d="M1648 80 H1982 V572 H1648Z M1655.4 86.4 V565.2 H1977.5 V86.4Z" fill="#fff" fill-rule="evenodd"/>
</svg>
</body></html>
